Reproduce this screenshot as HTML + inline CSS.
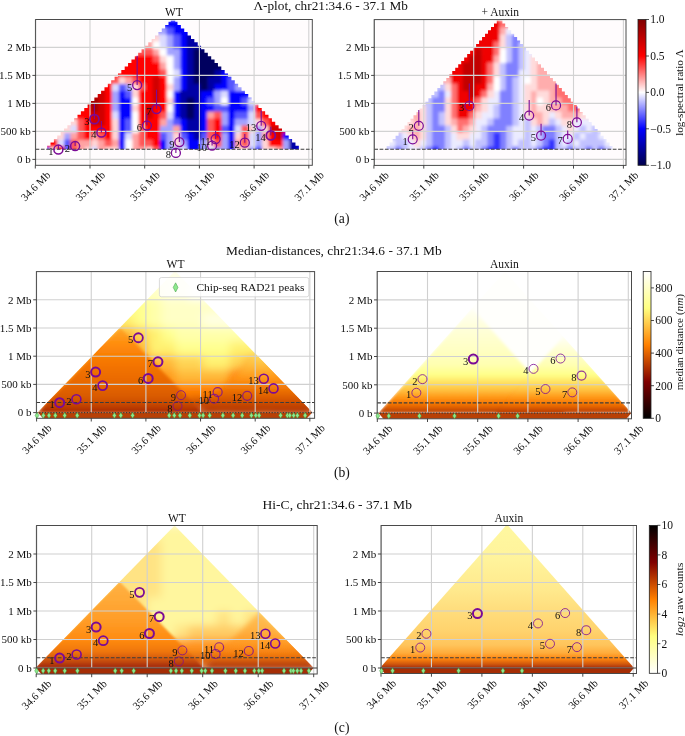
<!DOCTYPE html><html><head><meta charset="utf-8"><style>html,body{margin:0;padding:0;background:#fff;}svg{display:block;filter:blur(0.35px);}</style></head><body><svg width="685" height="736" viewBox="0 0 685 736" font-family='"Liberation Serif", serif' fill="#111">
<rect width="685" height="736" fill="#fff"/>
<text x="330.65" y="10.2" text-anchor="middle" font-size="12" textLength="154.5" lengthAdjust="spacingAndGlyphs">Λ-plot, chr21:34.6 - 37.1 Mb</text>
<rect x="37.10" y="21.00" width="273.70" height="142.80" fill="#fffcfd"/>
<clipPath id="claL"><rect x="35.60" y="19.50" width="276.70" height="145.80"/></clipPath>
<g clip-path="url(#claL)">
<clipPath id="taL"><polygon points="47.16,149.30 47.16,145.85 50.53,145.85 50.53,142.40 53.90,142.40 53.90,138.95 57.27,138.95 57.27,135.50 60.64,135.50 60.64,132.05 64.02,132.05 64.02,128.60 67.39,128.60 67.39,125.15 70.76,125.15 70.76,121.70 74.13,121.70 74.13,118.25 77.50,118.25 77.50,114.80 80.87,114.80 80.87,111.35 84.24,111.35 84.24,107.90 87.61,107.90 87.61,104.45 90.98,104.45 90.98,101.00 94.35,101.00 94.35,97.55 97.72,97.55 97.72,94.10 101.09,94.10 101.09,90.65 104.46,90.65 104.46,87.20 107.83,87.20 107.83,83.75 111.20,83.75 111.20,80.30 114.58,80.30 114.58,76.85 117.95,76.85 117.95,73.40 121.32,73.40 121.32,69.95 124.69,69.95 124.69,66.50 128.06,66.50 128.06,63.05 131.43,63.05 131.43,59.60 134.80,59.60 134.80,56.15 138.17,56.15 138.17,52.70 141.54,52.70 141.54,49.25 144.91,49.25 144.91,45.80 148.28,45.80 148.28,42.35 151.65,42.35 151.65,38.90 155.02,38.90 155.02,35.45 158.39,35.45 158.39,32.00 161.76,32.00 161.76,28.55 165.14,28.55 165.14,25.10 168.51,25.10 168.51,21.65 170.75,21.65 170.75,20.50 175.25,20.50 175.25,21.65 177.49,21.65 177.49,25.10 180.86,25.10 180.86,28.55 184.24,28.55 184.24,32.00 187.61,32.00 187.61,35.45 190.98,35.45 190.98,38.90 194.35,38.90 194.35,42.35 197.72,42.35 197.72,45.80 201.09,45.80 201.09,49.25 204.46,49.25 204.46,52.70 207.83,52.70 207.83,56.15 211.20,56.15 211.20,59.60 214.57,59.60 214.57,63.05 217.94,63.05 217.94,66.50 221.31,66.50 221.31,69.95 224.68,69.95 224.68,73.40 228.05,73.40 228.05,76.85 231.42,76.85 231.42,80.30 234.80,80.30 234.80,83.75 238.17,83.75 238.17,87.20 241.54,87.20 241.54,90.65 244.91,90.65 244.91,94.10 248.28,94.10 248.28,97.55 251.65,97.55 251.65,101.00 255.02,101.00 255.02,104.45 258.39,104.45 258.39,107.90 261.76,107.90 261.76,111.35 265.13,111.35 265.13,114.80 268.50,114.80 268.50,118.25 271.87,118.25 271.87,121.70 275.24,121.70 275.24,125.15 278.61,125.15 278.61,128.60 281.98,128.60 281.98,132.05 285.36,132.05 285.36,135.50 288.73,135.50 288.73,138.95 292.10,138.95 292.10,142.40 295.47,142.40 295.47,145.85 298.84,145.85 298.84,149.30"/></clipPath><filter id="faL" x="-5%" y="-5%" width="110%" height="110%"><feGaussianBlur stdDeviation="1.8"/></filter><g clip-path="url(#taL)"><g filter="url(#faL)"><path fill="#0000ff" d="M36.2 20.5h274.2v7.6h-274.2zM173.0 27.5h137.4v7.6h-137.4zM179.8 34.5h7.4v7.6h-7.4zM179.8 41.5h7.4v7.6h-7.4zM179.8 48.5h7.4v7.6h-7.4zM179.8 55.5h7.4v7.6h-7.4zM179.8 62.5h7.4v7.6h-7.4zM179.8 69.5h7.4v7.6h-7.4zM220.9 69.5h89.5v7.6h-89.5zM179.8 76.5h7.4v7.6h-7.4zM220.9 76.5h7.4v7.6h-7.4zM179.8 83.5h7.4v7.6h-7.4zM214.0 83.5h14.3v7.6h-14.3zM118.3 90.5h7.4v7.6h-7.4zM173.0 90.5h7.4v7.6h-7.4zM200.4 90.5h14.3v7.6h-14.3zM227.7 90.5h82.7v7.6h-82.7zM118.3 97.5h14.3v7.6h-14.3zM173.0 97.5h7.4v7.6h-7.4zM200.4 97.5h7.4v7.6h-7.4zM227.7 97.5h14.3v7.6h-14.3zM118.3 104.5h14.3v7.6h-14.3zM173.0 104.5h7.4v7.6h-7.4zM200.4 104.5h14.3v7.6h-14.3zM227.7 104.5h21.1v7.6h-21.1zM118.3 111.5h14.3v7.6h-14.3zM173.0 111.5h7.4v7.6h-7.4zM200.4 111.5h7.4v7.6h-7.4zM227.7 111.5h7.4v7.6h-7.4zM118.3 118.5h7.4v7.6h-7.4zM179.8 118.5h7.4v7.6h-7.4zM200.4 118.5h7.4v7.6h-7.4zM227.7 118.5h7.4v7.6h-7.4zM118.3 125.5h7.4v7.6h-7.4zM179.8 125.5h7.4v7.6h-7.4zM200.4 125.5h7.4v7.6h-7.4zM227.7 125.5h7.4v7.6h-7.4zM118.3 132.5h7.4v7.6h-7.4zM186.7 132.5h7.4v7.6h-7.4zM227.7 132.5h7.4v7.6h-7.4zM282.4 132.5h28.0v7.6h-28.0zM118.3 139.5h7.4v7.6h-7.4zM159.3 139.5h7.4v7.6h-7.4zM186.7 139.5h14.3v7.6h-14.3zM227.7 139.5h7.4v7.6h-7.4zM118.3 146.5h7.4v7.6h-7.4zM159.3 146.5h7.4v7.6h-7.4zM186.7 146.5h14.3v7.6h-14.3zM227.7 146.5h7.4v7.6h-7.4zM296.1 146.5h14.3v7.6h-14.3zM118.3 153.5h7.4v7.6h-7.4zM159.3 153.5h7.4v7.6h-7.4zM186.7 153.5h14.3v7.6h-14.3zM234.6 153.5h7.4v7.6h-7.4zM302.9 153.5h7.4v7.6h-7.4z"/><path fill="#a3a3ff" d="M36.2 27.5h130.5v7.6h-130.5zM166.2 34.5h7.4v7.6h-7.4zM166.2 41.5h7.4v7.6h-7.4zM166.2 48.5h14.3v7.6h-14.3zM173.0 55.5h7.4v7.6h-7.4zM173.0 62.5h7.4v7.6h-7.4zM173.0 76.5h7.4v7.6h-7.4zM125.1 83.5h7.4v7.6h-7.4zM173.0 83.5h7.4v7.6h-7.4zM234.6 83.5h75.8v7.6h-75.8zM111.4 90.5h7.4v7.6h-7.4zM214.0 90.5h7.4v7.6h-7.4zM111.4 97.5h7.4v7.6h-7.4zM214.0 97.5h7.4v7.6h-7.4zM111.4 104.5h7.4v7.6h-7.4zM248.2 104.5h7.4v7.6h-7.4zM220.9 111.5h7.4v7.6h-7.4zM166.2 118.5h7.4v7.6h-7.4zM220.9 118.5h7.4v7.6h-7.4zM234.6 118.5h14.3v7.6h-14.3zM159.3 125.5h14.3v7.6h-14.3zM255.1 125.5h7.4v7.6h-7.4zM63.6 132.5h7.4v7.6h-7.4zM166.2 132.5h7.4v7.6h-7.4zM220.9 132.5h7.4v7.6h-7.4zM255.1 132.5h7.4v7.6h-7.4zM166.2 139.5h7.4v7.6h-7.4zM179.8 139.5h7.4v7.6h-7.4zM200.4 139.5h7.4v7.6h-7.4zM220.9 139.5h7.4v7.6h-7.4zM255.1 139.5h7.4v7.6h-7.4zM282.4 139.5h7.4v7.6h-7.4zM166.2 146.5h14.3v7.6h-14.3zM200.4 146.5h7.4v7.6h-7.4zM214.0 146.5h14.3v7.6h-14.3zM248.2 146.5h7.4v7.6h-7.4zM282.4 146.5h7.4v7.6h-7.4zM36.2 153.5h14.3v7.6h-14.3zM166.2 153.5h14.3v7.6h-14.3zM200.4 153.5h7.4v7.6h-7.4zM220.9 153.5h14.3v7.6h-14.3zM255.1 153.5h7.4v7.6h-7.4zM289.3 153.5h7.4v7.6h-7.4z"/><path fill="#5757ff" d="M166.2 27.5h7.4v7.6h-7.4zM173.0 34.5h7.4v7.6h-7.4zM173.0 41.5h7.4v7.6h-7.4zM227.7 76.5h82.7v7.6h-82.7zM118.3 83.5h7.4v7.6h-7.4zM227.7 83.5h7.4v7.6h-7.4zM125.1 90.5h7.4v7.6h-7.4zM207.2 97.5h7.4v7.6h-7.4zM241.4 97.5h7.4v7.6h-7.4zM214.0 104.5h14.3v7.6h-14.3zM234.6 111.5h14.3v7.6h-14.3zM125.1 118.5h7.4v7.6h-7.4zM173.0 118.5h7.4v7.6h-7.4zM125.1 125.5h7.4v7.6h-7.4zM220.9 125.5h7.4v7.6h-7.4zM159.3 132.5h7.4v7.6h-7.4zM179.8 132.5h7.4v7.6h-7.4zM200.4 132.5h7.4v7.6h-7.4zM63.6 139.5h7.4v7.6h-7.4zM36.2 146.5h14.3v7.6h-14.3zM63.6 146.5h7.4v7.6h-7.4zM255.1 146.5h7.4v7.6h-7.4zM63.6 153.5h7.4v7.6h-7.4zM261.9 153.5h7.4v7.6h-7.4z"/><path fill="#ffd6d6" d="M36.2 34.5h123.7v7.6h-123.7zM159.3 55.5h7.4v7.6h-7.4zM118.3 76.5h7.4v7.6h-7.4zM132.0 83.5h7.4v7.6h-7.4zM166.2 83.5h7.4v7.6h-7.4zM132.0 90.5h7.4v7.6h-7.4zM166.2 97.5h7.4v7.6h-7.4zM132.0 104.5h7.4v7.6h-7.4zM36.2 118.5h41.6v7.6h-41.6zM111.4 118.5h7.4v7.6h-7.4zM255.1 118.5h7.4v7.6h-7.4zM36.2 125.5h34.8v7.6h-34.8zM111.4 125.5h7.4v7.6h-7.4zM248.2 125.5h7.4v7.6h-7.4zM261.9 125.5h7.4v7.6h-7.4zM36.2 132.5h28.0v7.6h-28.0zM111.4 132.5h7.4v7.6h-7.4zM173.0 132.5h7.4v7.6h-7.4zM234.6 132.5h7.4v7.6h-7.4zM90.9 139.5h7.4v7.6h-7.4zM173.0 139.5h7.4v7.6h-7.4zM207.2 139.5h7.4v7.6h-7.4zM261.9 139.5h7.4v7.6h-7.4zM49.9 146.5h7.4v7.6h-7.4zM84.1 146.5h7.4v7.6h-7.4zM104.6 146.5h14.3v7.6h-14.3zM145.6 146.5h7.4v7.6h-7.4zM234.6 146.5h14.3v7.6h-14.3zM261.9 146.5h14.3v7.6h-14.3zM84.1 153.5h7.4v7.6h-7.4zM104.6 153.5h14.3v7.6h-14.3zM145.6 153.5h7.4v7.6h-7.4zM241.4 153.5h14.3v7.6h-14.3zM268.7 153.5h14.3v7.6h-14.3z"/><path fill="#dbdbff" d="M159.3 34.5h7.4v7.6h-7.4zM159.3 41.5h7.4v7.6h-7.4zM173.0 69.5h7.4v7.6h-7.4zM111.4 83.5h7.4v7.6h-7.4zM220.9 90.5h7.4v7.6h-7.4zM248.2 97.5h62.2v7.6h-62.2zM111.4 111.5h7.4v7.6h-7.4zM166.2 111.5h7.4v7.6h-7.4zM248.2 111.5h7.4v7.6h-7.4zM248.2 118.5h7.4v7.6h-7.4zM70.4 125.5h7.4v7.6h-7.4zM234.6 125.5h7.4v7.6h-7.4zM125.1 132.5h7.4v7.6h-7.4zM248.2 132.5h7.4v7.6h-7.4zM56.7 139.5h7.4v7.6h-7.4zM248.2 139.5h7.4v7.6h-7.4zM90.9 146.5h7.4v7.6h-7.4zM179.8 146.5h7.4v7.6h-7.4zM207.2 146.5h7.4v7.6h-7.4zM77.3 153.5h7.4v7.6h-7.4zM90.9 153.5h7.4v7.6h-7.4zM179.8 153.5h7.4v7.6h-7.4zM207.2 153.5h14.3v7.6h-14.3z"/><path fill="#0000a6" d="M186.7 34.5h123.7v7.6h-123.7zM186.7 41.5h123.7v7.6h-123.7zM186.7 48.5h7.4v7.6h-7.4zM186.7 55.5h7.4v7.6h-7.4zM186.7 62.5h7.4v7.6h-7.4zM186.7 69.5h7.4v7.6h-7.4zM214.0 69.5h7.4v7.6h-7.4zM186.7 76.5h7.4v7.6h-7.4zM207.2 76.5h14.3v7.6h-14.3zM186.7 83.5h14.3v7.6h-14.3zM207.2 83.5h7.4v7.6h-7.4zM179.8 90.5h21.1v7.6h-21.1zM179.8 97.5h7.4v7.6h-7.4zM193.5 97.5h7.4v7.6h-7.4zM179.8 104.5h7.4v7.6h-7.4zM193.5 104.5h7.4v7.6h-7.4zM179.8 111.5h7.4v7.6h-7.4zM193.5 111.5h7.4v7.6h-7.4zM186.7 118.5h14.3v7.6h-14.3zM186.7 125.5h14.3v7.6h-14.3zM193.5 132.5h7.4v7.6h-7.4zM289.3 139.5h21.1v7.6h-21.1zM289.3 146.5h7.4v7.6h-7.4zM296.1 153.5h7.4v7.6h-7.4z"/><path fill="#ffa3a3" d="M36.2 41.5h116.9v7.6h-116.9zM152.5 48.5h7.4v7.6h-7.4zM159.3 62.5h7.4v7.6h-7.4zM125.1 76.5h7.4v7.6h-7.4zM207.2 111.5h7.4v7.6h-7.4zM159.3 118.5h7.4v7.6h-7.4zM173.0 125.5h7.4v7.6h-7.4zM70.4 132.5h7.4v7.6h-7.4zM90.9 132.5h7.4v7.6h-7.4zM132.0 132.5h7.4v7.6h-7.4zM261.9 132.5h7.4v7.6h-7.4zM77.3 139.5h14.3v7.6h-14.3zM97.8 139.5h7.4v7.6h-7.4zM111.4 139.5h7.4v7.6h-7.4zM132.0 139.5h7.4v7.6h-7.4zM234.6 139.5h7.4v7.6h-7.4zM77.3 146.5h7.4v7.6h-7.4zM97.8 146.5h7.4v7.6h-7.4zM132.0 146.5h14.3v7.6h-14.3zM275.6 146.5h7.4v7.6h-7.4zM97.8 153.5h7.4v7.6h-7.4zM132.0 153.5h14.3v7.6h-14.3zM282.4 153.5h7.4v7.6h-7.4z"/><path fill="#ffffff" d="M152.5 41.5h7.4v7.6h-7.4zM159.3 48.5h7.4v7.6h-7.4zM166.2 55.5h7.4v7.6h-7.4zM166.2 62.5h7.4v7.6h-7.4zM166.2 69.5h7.4v7.6h-7.4zM166.2 76.5h7.4v7.6h-7.4zM166.2 90.5h7.4v7.6h-7.4zM132.0 97.5h7.4v7.6h-7.4zM220.9 97.5h7.4v7.6h-7.4zM166.2 104.5h7.4v7.6h-7.4zM132.0 111.5h7.4v7.6h-7.4zM132.0 118.5h7.4v7.6h-7.4zM132.0 125.5h7.4v7.6h-7.4zM125.1 139.5h7.4v7.6h-7.4zM125.1 146.5h7.4v7.6h-7.4zM125.1 153.5h7.4v7.6h-7.4z"/><path fill="#ff5757" d="M36.2 48.5h116.9v7.6h-116.9zM152.5 55.5h7.4v7.6h-7.4zM159.3 69.5h7.4v7.6h-7.4zM36.2 76.5h82.7v7.6h-82.7zM132.0 76.5h7.4v7.6h-7.4zM138.8 83.5h7.4v7.6h-7.4zM159.3 111.5h7.4v7.6h-7.4zM214.0 111.5h7.4v7.6h-7.4zM255.1 111.5h7.4v7.6h-7.4zM77.3 118.5h7.4v7.6h-7.4zM207.2 118.5h7.4v7.6h-7.4zM261.9 118.5h7.4v7.6h-7.4zM77.3 125.5h7.4v7.6h-7.4zM138.8 125.5h7.4v7.6h-7.4zM207.2 125.5h7.4v7.6h-7.4zM241.4 125.5h7.4v7.6h-7.4zM77.3 132.5h7.4v7.6h-7.4zM97.8 132.5h7.4v7.6h-7.4zM138.8 132.5h7.4v7.6h-7.4zM207.2 132.5h7.4v7.6h-7.4zM241.4 132.5h7.4v7.6h-7.4zM70.4 139.5h7.4v7.6h-7.4zM104.6 139.5h7.4v7.6h-7.4zM138.8 139.5h14.3v7.6h-14.3zM214.0 139.5h7.4v7.6h-7.4zM241.4 139.5h7.4v7.6h-7.4zM70.4 146.5h7.4v7.6h-7.4zM152.5 146.5h7.4v7.6h-7.4zM56.7 153.5h7.4v7.6h-7.4zM70.4 153.5h7.4v7.6h-7.4zM152.5 153.5h7.4v7.6h-7.4z"/><path fill="#00005e" d="M193.5 48.5h116.9v7.6h-116.9zM193.5 55.5h116.9v7.6h-116.9zM193.5 62.5h116.9v7.6h-116.9zM193.5 69.5h21.1v7.6h-21.1zM193.5 76.5h14.3v7.6h-14.3zM200.4 83.5h7.4v7.6h-7.4zM186.7 97.5h7.4v7.6h-7.4zM186.7 104.5h7.4v7.6h-7.4zM186.7 111.5h7.4v7.6h-7.4z"/><path fill="#ff0000" d="M36.2 55.5h116.9v7.6h-116.9zM36.2 62.5h123.7v7.6h-123.7zM36.2 69.5h123.7v7.6h-123.7zM138.8 76.5h14.3v7.6h-14.3zM159.3 76.5h7.4v7.6h-7.4zM36.2 83.5h75.8v7.6h-75.8zM145.6 83.5h7.4v7.6h-7.4zM159.3 83.5h7.4v7.6h-7.4zM104.6 90.5h7.4v7.6h-7.4zM138.8 90.5h14.3v7.6h-14.3zM159.3 90.5h7.4v7.6h-7.4zM104.6 97.5h7.4v7.6h-7.4zM138.8 97.5h14.3v7.6h-14.3zM159.3 97.5h7.4v7.6h-7.4zM36.2 104.5h55.3v7.6h-55.3zM104.6 104.5h7.4v7.6h-7.4zM138.8 104.5h7.4v7.6h-7.4zM152.5 104.5h14.3v7.6h-14.3zM255.1 104.5h55.3v7.6h-55.3zM36.2 111.5h55.3v7.6h-55.3zM104.6 111.5h7.4v7.6h-7.4zM138.8 111.5h7.4v7.6h-7.4zM152.5 111.5h7.4v7.6h-7.4zM261.9 111.5h48.5v7.6h-48.5zM84.1 118.5h7.4v7.6h-7.4zM104.6 118.5h7.4v7.6h-7.4zM138.8 118.5h21.1v7.6h-21.1zM214.0 118.5h7.4v7.6h-7.4zM268.7 118.5h41.6v7.6h-41.6zM84.1 125.5h28.0v7.6h-28.0zM145.6 125.5h14.3v7.6h-14.3zM214.0 125.5h7.4v7.6h-7.4zM84.1 132.5h7.4v7.6h-7.4zM104.6 132.5h7.4v7.6h-7.4zM145.6 132.5h14.3v7.6h-14.3zM214.0 132.5h7.4v7.6h-7.4zM268.7 132.5h7.4v7.6h-7.4zM36.2 139.5h21.1v7.6h-21.1zM152.5 139.5h7.4v7.6h-7.4zM268.7 139.5h14.3v7.6h-14.3zM56.7 146.5h7.4v7.6h-7.4zM49.9 153.5h7.4v7.6h-7.4z"/><path fill="#d10000" d="M152.5 76.5h7.4v7.6h-7.4zM152.5 83.5h7.4v7.6h-7.4zM36.2 90.5h69.0v7.6h-69.0zM152.5 90.5h7.4v7.6h-7.4zM97.8 97.5h7.4v7.6h-7.4zM152.5 97.5h7.4v7.6h-7.4zM97.8 104.5h7.4v7.6h-7.4zM145.6 104.5h7.4v7.6h-7.4zM90.9 111.5h14.3v7.6h-14.3zM145.6 111.5h7.4v7.6h-7.4zM90.9 118.5h14.3v7.6h-14.3zM268.7 125.5h41.6v7.6h-41.6zM275.6 132.5h7.4v7.6h-7.4z"/><path fill="#a60000" d="M36.2 97.5h62.2v7.6h-62.2zM90.9 104.5h7.4v7.6h-7.4z"/></g></g>
</g>
<line x1="35.30" y1="19.50" x2="35.30" y2="165.30" stroke="#d2d2d2" stroke-width="1.1"/>
<line x1="90.00" y1="19.50" x2="90.00" y2="165.30" stroke="#d2d2d2" stroke-width="1.1"/>
<line x1="144.70" y1="19.50" x2="144.70" y2="165.30" stroke="#d2d2d2" stroke-width="1.1"/>
<line x1="199.40" y1="19.50" x2="199.40" y2="165.30" stroke="#d2d2d2" stroke-width="1.1"/>
<line x1="254.10" y1="19.50" x2="254.10" y2="165.30" stroke="#d2d2d2" stroke-width="1.1"/>
<line x1="308.80" y1="19.50" x2="308.80" y2="165.30" stroke="#d2d2d2" stroke-width="1.1"/>
<line x1="35.60" y1="159.40" x2="312.30" y2="159.40" stroke="#d2d2d2" stroke-width="1.1"/>
<line x1="35.60" y1="131.40" x2="312.30" y2="131.40" stroke="#d2d2d2" stroke-width="1.1"/>
<line x1="35.60" y1="103.40" x2="312.30" y2="103.40" stroke="#d2d2d2" stroke-width="1.1"/>
<line x1="35.60" y1="75.40" x2="312.30" y2="75.40" stroke="#d2d2d2" stroke-width="1.1"/>
<line x1="35.60" y1="47.40" x2="312.30" y2="47.40" stroke="#d2d2d2" stroke-width="1.1"/>
<line x1="35.60" y1="149.32" x2="312.30" y2="149.32" stroke="#3c3c3c" stroke-width="1.1" stroke-dasharray="3.7 1.6"/>
<rect x="35.60" y="19.50" width="276.70" height="145.80" fill="none" stroke="#4a4a4a" stroke-width="1"/>
<line x1="32.40" y1="159.40" x2="35.60" y2="159.40" stroke="#333" stroke-width="0.9"/>
<text x="30.80" y="163.15" text-anchor="end" font-size="11">0 b</text>
<line x1="32.40" y1="131.40" x2="35.60" y2="131.40" stroke="#333" stroke-width="0.9"/>
<text x="30.80" y="135.15" text-anchor="end" font-size="11">500 kb</text>
<line x1="32.40" y1="103.40" x2="35.60" y2="103.40" stroke="#333" stroke-width="0.9"/>
<text x="30.80" y="107.15" text-anchor="end" font-size="11">1 Mb</text>
<line x1="32.40" y1="75.40" x2="35.60" y2="75.40" stroke="#333" stroke-width="0.9"/>
<text x="30.80" y="79.15" text-anchor="end" font-size="11">1.5 Mb</text>
<line x1="32.40" y1="47.40" x2="35.60" y2="47.40" stroke="#333" stroke-width="0.9"/>
<text x="30.80" y="51.15" text-anchor="end" font-size="11">2 Mb</text>
<line x1="35.30" y1="165.30" x2="35.30" y2="168.50" stroke="#333" stroke-width="0.9"/>
<text x="35.30" y="185.90" text-anchor="middle" dominant-baseline="central" font-size="10.8" transform="rotate(-45 35.30 185.90)">34.6 Mb</text>
<line x1="90.00" y1="165.30" x2="90.00" y2="168.50" stroke="#333" stroke-width="0.9"/>
<text x="90.00" y="185.90" text-anchor="middle" dominant-baseline="central" font-size="10.8" transform="rotate(-45 90.00 185.90)">35.1 Mb</text>
<line x1="144.70" y1="165.30" x2="144.70" y2="168.50" stroke="#333" stroke-width="0.9"/>
<text x="144.70" y="185.90" text-anchor="middle" dominant-baseline="central" font-size="10.8" transform="rotate(-45 144.70 185.90)">35.6 Mb</text>
<line x1="199.40" y1="165.30" x2="199.40" y2="168.50" stroke="#333" stroke-width="0.9"/>
<text x="199.40" y="185.90" text-anchor="middle" dominant-baseline="central" font-size="10.8" transform="rotate(-45 199.40 185.90)">36.1 Mb</text>
<line x1="254.10" y1="165.30" x2="254.10" y2="168.50" stroke="#333" stroke-width="0.9"/>
<text x="254.10" y="185.90" text-anchor="middle" dominant-baseline="central" font-size="10.8" transform="rotate(-45 254.10 185.90)">36.6 Mb</text>
<line x1="308.80" y1="165.30" x2="308.80" y2="168.50" stroke="#333" stroke-width="0.9"/>
<text x="308.80" y="185.90" text-anchor="middle" dominant-baseline="central" font-size="10.8" transform="rotate(-45 308.80 185.90)">37.1 Mb</text>
<text x="173.95" y="15.50" text-anchor="middle" font-size="11.5">WT</text>
<line x1="58.38" y1="145.00" x2="58.38" y2="149.60" stroke="#7b0a96" stroke-width="1.1"/>
<circle cx="58.38" cy="149.60" r="4.5" fill="none" stroke="#7b0a96" stroke-width="1.5"/>
<text x="53.38" y="155.10" text-anchor="end" font-size="10.5">1</text>
<line x1="75.12" y1="141.40" x2="75.12" y2="146.10" stroke="#7b0a96" stroke-width="1.1"/>
<circle cx="75.12" cy="146.10" r="4.5" fill="none" stroke="#7b0a96" stroke-width="1.5"/>
<text x="70.12" y="151.60" text-anchor="end" font-size="10.5">2</text>
<line x1="94.38" y1="104.00" x2="94.38" y2="119.19" stroke="#7b0a96" stroke-width="1.1"/>
<circle cx="94.38" cy="119.19" r="4.5" fill="none" stroke="#7b0a96" stroke-width="1.8"/>
<text x="89.38" y="124.69" text-anchor="end" font-size="10.5">3</text>
<line x1="101.38" y1="121.00" x2="101.38" y2="132.58" stroke="#7b0a96" stroke-width="1.1"/>
<circle cx="101.38" cy="132.58" r="4.5" fill="none" stroke="#7b0a96" stroke-width="1.5"/>
<text x="96.38" y="138.08" text-anchor="end" font-size="10.5">4</text>
<line x1="137.15" y1="55.80" x2="137.15" y2="85.09" stroke="#7b0a96" stroke-width="1.1"/>
<circle cx="137.15" cy="85.09" r="4.5" fill="none" stroke="#7b0a96" stroke-width="1.3"/>
<text x="132.15" y="90.59" text-anchor="end" font-size="10.5">5</text>
<line x1="146.89" y1="113.60" x2="146.89" y2="125.52" stroke="#7b0a96" stroke-width="1.1"/>
<circle cx="146.89" cy="125.52" r="4.5" fill="none" stroke="#7b0a96" stroke-width="1.3"/>
<text x="141.89" y="131.02" text-anchor="end" font-size="10.5">6</text>
<line x1="156.52" y1="89.70" x2="156.52" y2="109.00" stroke="#7b0a96" stroke-width="1.1"/>
<circle cx="156.52" cy="109.00" r="4.5" fill="none" stroke="#7b0a96" stroke-width="1.5"/>
<text x="151.52" y="114.50" text-anchor="end" font-size="10.5">7</text>
<line x1="175.88" y1="149.00" x2="175.88" y2="152.90" stroke="#7b0a96" stroke-width="1.1"/>
<circle cx="175.88" cy="152.90" r="4.5" fill="none" stroke="#7b0a96" stroke-width="1.3"/>
<text x="170.88" y="158.40" text-anchor="end" font-size="10.5">8</text>
<line x1="179.38" y1="133.30" x2="179.38" y2="142.10" stroke="#7b0a96" stroke-width="1.1"/>
<circle cx="179.38" cy="142.10" r="4.5" fill="none" stroke="#7b0a96" stroke-width="1.3"/>
<text x="174.38" y="147.60" text-anchor="end" font-size="10.5">9</text>
<line x1="212.09" y1="140.00" x2="212.09" y2="145.62" stroke="#7b0a96" stroke-width="1.1"/>
<circle cx="212.09" cy="145.62" r="4.5" fill="none" stroke="#7b0a96" stroke-width="1.3"/>
<text x="207.09" y="151.12" text-anchor="end" font-size="10.5">10</text>
<line x1="215.59" y1="130.90" x2="215.59" y2="139.02" stroke="#7b0a96" stroke-width="1.1"/>
<circle cx="215.59" cy="139.02" r="4.5" fill="none" stroke="#7b0a96" stroke-width="1.3"/>
<text x="210.59" y="144.52" text-anchor="end" font-size="10.5">11</text>
<line x1="244.80" y1="134.00" x2="244.80" y2="142.71" stroke="#7b0a96" stroke-width="1.1"/>
<circle cx="244.80" cy="142.71" r="4.5" fill="none" stroke="#7b0a96" stroke-width="1.3"/>
<text x="239.80" y="148.21" text-anchor="end" font-size="10.5">12</text>
<line x1="261.21" y1="110.40" x2="261.21" y2="125.80" stroke="#7b0a96" stroke-width="1.1"/>
<circle cx="261.21" cy="125.80" r="4.5" fill="none" stroke="#7b0a96" stroke-width="1.3"/>
<text x="256.21" y="131.30" text-anchor="end" font-size="10.5">13</text>
<line x1="270.84" y1="126.80" x2="270.84" y2="135.38" stroke="#7b0a96" stroke-width="1.1"/>
<circle cx="270.84" cy="135.38" r="4.5" fill="none" stroke="#7b0a96" stroke-width="1.8"/>
<text x="265.84" y="140.88" text-anchor="end" font-size="10.5">14</text>
<rect x="375.80" y="21.10" width="248.70" height="142.80" fill="#fffcfd"/>
<clipPath id="claR"><rect x="374.30" y="19.60" width="251.70" height="145.80"/></clipPath>
<g clip-path="url(#claR)">
<clipPath id="taR"><polygon points="386.64,149.30 386.64,145.90 389.62,145.90 389.62,142.50 392.61,142.50 392.61,139.10 395.59,139.10 395.59,135.70 398.57,135.70 398.57,132.30 401.55,132.30 401.55,128.90 404.53,128.90 404.53,125.50 407.51,125.50 407.51,122.10 410.50,122.10 410.50,118.70 413.48,118.70 413.48,115.30 416.46,115.30 416.46,111.90 419.44,111.90 419.44,108.50 422.42,108.50 422.42,105.10 425.41,105.10 425.41,101.70 428.39,101.70 428.39,98.30 431.37,98.30 431.37,94.90 434.35,94.90 434.35,91.50 437.33,91.50 437.33,88.10 440.31,88.10 440.31,84.70 443.30,84.70 443.30,81.30 446.28,81.30 446.28,77.90 449.26,77.90 449.26,74.50 452.24,74.50 452.24,71.10 455.22,71.10 455.22,67.70 458.21,67.70 458.21,64.30 461.19,64.30 461.19,60.90 464.17,60.90 464.17,57.50 467.15,57.50 467.15,54.10 470.13,54.10 470.13,50.70 473.11,50.70 473.11,47.30 476.10,47.30 476.10,43.90 479.08,43.90 479.08,40.50 482.06,40.50 482.06,37.10 485.04,37.10 485.04,33.70 488.02,33.70 488.02,30.30 491.01,30.30 491.01,26.90 493.99,26.90 493.99,23.50 496.79,23.50 496.79,20.50 502.41,20.50 502.41,23.50 505.21,23.50 505.21,26.90 508.19,26.90 508.19,30.30 511.18,30.30 511.18,33.70 514.16,33.70 514.16,37.10 517.14,37.10 517.14,40.50 520.12,40.50 520.12,43.90 523.10,43.90 523.10,47.30 526.09,47.30 526.09,50.70 529.07,50.70 529.07,54.10 532.05,54.10 532.05,57.50 535.03,57.50 535.03,60.90 538.01,60.90 538.01,64.30 540.99,64.30 540.99,67.70 543.98,67.70 543.98,71.10 546.96,71.10 546.96,74.50 549.94,74.50 549.94,77.90 552.92,77.90 552.92,81.30 555.90,81.30 555.90,84.70 558.89,84.70 558.89,88.10 561.87,88.10 561.87,91.50 564.85,91.50 564.85,94.90 567.83,94.90 567.83,98.30 570.81,98.30 570.81,101.70 573.79,101.70 573.79,105.10 576.78,105.10 576.78,108.50 579.76,108.50 579.76,111.90 582.74,111.90 582.74,115.30 585.72,115.30 585.72,118.70 588.70,118.70 588.70,122.10 591.69,122.10 591.69,125.50 594.67,125.50 594.67,128.90 597.65,128.90 597.65,132.30 600.63,132.30 600.63,135.70 603.61,135.70 603.61,139.10 606.59,139.10 606.59,142.50 609.58,142.50 609.58,145.90 612.56,145.90 612.56,149.30"/></clipPath><filter id="faR" x="-5%" y="-5%" width="110%" height="110%"><feGaussianBlur stdDeviation="1.8"/></filter><g clip-path="url(#taR)"><g filter="url(#faR)"><path fill="#f00000" d="M376.8 20.5h123.4v7.6h-123.4zM376.8 27.5h123.4v7.6h-123.4zM376.8 34.5h123.4v7.6h-123.4zM376.8 41.5h117.2v7.6h-117.2zM376.8 48.5h98.8v7.6h-98.8zM481.2 48.5h12.9v7.6h-12.9zM376.8 55.5h92.7v7.6h-92.7zM481.2 55.5h12.9v7.6h-12.9zM376.8 62.5h86.5v7.6h-86.5zM481.2 62.5h6.7v7.6h-6.7zM376.8 69.5h86.5v7.6h-86.5zM481.2 69.5h6.7v7.6h-6.7zM450.5 76.5h12.9v7.6h-12.9zM481.2 76.5h6.7v7.6h-6.7zM456.6 83.5h6.7v7.6h-6.7zM475.0 83.5h12.9v7.6h-12.9zM456.6 90.5h12.9v7.6h-12.9zM475.0 90.5h6.7v7.6h-6.7zM456.6 97.5h19.0v7.6h-19.0zM456.6 104.5h19.0v7.6h-19.0zM456.6 111.5h12.9v7.6h-12.9z"/><path fill="#ff7070" d="M499.6 20.5h123.4v7.6h-123.4zM493.5 41.5h6.7v7.6h-6.7zM493.5 48.5h6.7v7.6h-6.7zM487.3 62.5h6.7v7.6h-6.7zM487.3 69.5h6.7v7.6h-6.7zM487.3 76.5h6.7v7.6h-6.7zM450.5 83.5h6.7v7.6h-6.7zM554.9 83.5h68.1v7.6h-68.1zM450.5 90.5h6.7v7.6h-6.7zM481.2 90.5h6.7v7.6h-6.7zM554.9 90.5h68.1v7.6h-68.1zM450.5 97.5h6.7v7.6h-6.7zM475.0 97.5h6.7v7.6h-6.7zM561.0 97.5h62.0v7.6h-62.0zM450.5 104.5h6.7v7.6h-6.7zM567.1 104.5h55.9v7.6h-55.9zM450.5 111.5h6.7v7.6h-6.7zM468.9 111.5h6.7v7.6h-6.7zM456.6 118.5h12.9v7.6h-12.9zM456.6 125.5h6.7v7.6h-6.7z"/><path fill="#ffadad" d="M499.6 27.5h6.7v7.6h-6.7zM493.5 55.5h6.7v7.6h-6.7zM536.4 62.5h86.5v7.6h-86.5zM536.4 69.5h86.5v7.6h-86.5zM376.8 76.5h74.3v7.6h-74.3zM536.4 76.5h86.5v7.6h-86.5zM487.3 83.5h6.7v7.6h-6.7zM536.4 83.5h19.0v7.6h-19.0zM530.3 90.5h6.7v7.6h-6.7zM548.7 90.5h6.7v7.6h-6.7zM530.3 97.5h6.7v7.6h-6.7zM548.7 97.5h12.9v7.6h-12.9zM475.0 104.5h6.7v7.6h-6.7zM530.3 104.5h6.7v7.6h-6.7zM548.7 104.5h19.0v7.6h-19.0zM376.8 111.5h43.6v7.6h-43.6zM530.3 111.5h12.9v7.6h-12.9zM561.0 111.5h19.0v7.6h-19.0zM413.7 118.5h6.7v7.6h-6.7zM450.5 118.5h6.7v7.6h-6.7zM468.9 118.5h6.7v7.6h-6.7zM536.4 118.5h6.7v7.6h-6.7zM407.5 125.5h12.9v7.6h-12.9zM462.8 125.5h6.7v7.6h-6.7zM413.7 132.5h6.7v7.6h-6.7z"/><path fill="#ebebff" d="M505.7 27.5h117.2v7.6h-117.2zM524.2 48.5h98.8v7.6h-98.8zM524.2 55.5h6.7v7.6h-6.7zM524.2 62.5h6.7v7.6h-6.7zM518.0 69.5h12.9v7.6h-12.9zM518.0 76.5h6.7v7.6h-6.7zM518.0 83.5h6.7v7.6h-6.7zM444.3 90.5h6.7v7.6h-6.7zM493.5 90.5h6.7v7.6h-6.7zM518.0 90.5h6.7v7.6h-6.7zM487.3 97.5h12.9v7.6h-12.9zM518.0 97.5h6.7v7.6h-6.7zM487.3 104.5h6.7v7.6h-6.7zM518.0 104.5h6.7v7.6h-6.7zM481.2 111.5h12.9v7.6h-12.9zM518.0 111.5h6.7v7.6h-6.7zM548.7 111.5h6.7v7.6h-6.7zM475.0 118.5h12.9v7.6h-12.9zM518.0 118.5h6.7v7.6h-6.7zM554.9 118.5h6.7v7.6h-6.7zM573.3 118.5h49.7v7.6h-49.7zM475.0 125.5h6.7v7.6h-6.7zM511.9 125.5h12.9v7.6h-12.9zM530.3 125.5h6.7v7.6h-6.7zM561.0 125.5h6.7v7.6h-6.7zM573.3 125.5h6.7v7.6h-6.7zM585.5 125.5h6.7v7.6h-6.7zM401.4 132.5h6.7v7.6h-6.7zM450.5 132.5h6.7v7.6h-6.7zM468.9 132.5h12.9v7.6h-12.9zM511.9 132.5h12.9v7.6h-12.9zM530.3 132.5h6.7v7.6h-6.7zM561.0 132.5h12.9v7.6h-12.9zM579.4 132.5h6.7v7.6h-6.7zM597.8 132.5h25.2v7.6h-25.2zM376.8 139.5h19.0v7.6h-19.0zM407.5 139.5h6.7v7.6h-6.7zM419.8 139.5h6.7v7.6h-6.7zM450.5 139.5h12.9v7.6h-12.9zM468.9 139.5h6.7v7.6h-6.7zM511.9 139.5h6.7v7.6h-6.7zM530.3 139.5h6.7v7.6h-6.7zM561.0 139.5h6.7v7.6h-6.7zM573.3 139.5h6.7v7.6h-6.7zM604.0 139.5h19.0v7.6h-19.0zM407.5 146.5h12.9v7.6h-12.9zM450.5 146.5h6.7v7.6h-6.7zM610.1 146.5h12.9v7.6h-12.9zM407.5 153.5h12.9v7.6h-12.9zM450.5 153.5h6.7v7.6h-6.7zM610.1 153.5h12.9v7.6h-12.9z"/><path fill="#ffdbdb" d="M499.6 34.5h6.7v7.6h-6.7zM499.6 41.5h6.7v7.6h-6.7zM530.3 55.5h92.7v7.6h-92.7zM493.5 62.5h6.7v7.6h-6.7zM530.3 62.5h6.7v7.6h-6.7zM493.5 69.5h6.7v7.6h-6.7zM530.3 69.5h6.7v7.6h-6.7zM530.3 76.5h6.7v7.6h-6.7zM444.3 83.5h6.7v7.6h-6.7zM524.2 83.5h12.9v7.6h-12.9zM487.3 90.5h6.7v7.6h-6.7zM524.2 90.5h6.7v7.6h-6.7zM536.4 90.5h12.9v7.6h-12.9zM444.3 97.5h6.7v7.6h-6.7zM481.2 97.5h6.7v7.6h-6.7zM524.2 97.5h6.7v7.6h-6.7zM542.6 97.5h6.7v7.6h-6.7zM376.8 104.5h49.7v7.6h-49.7zM444.3 104.5h6.7v7.6h-6.7zM481.2 104.5h6.7v7.6h-6.7zM524.2 104.5h6.7v7.6h-6.7zM536.4 104.5h12.9v7.6h-12.9zM419.8 111.5h6.7v7.6h-6.7zM444.3 111.5h6.7v7.6h-6.7zM475.0 111.5h6.7v7.6h-6.7zM524.2 111.5h6.7v7.6h-6.7zM542.6 111.5h6.7v7.6h-6.7zM554.9 111.5h6.7v7.6h-6.7zM579.4 111.5h43.6v7.6h-43.6zM376.8 118.5h37.4v7.6h-37.4zM419.8 118.5h6.7v7.6h-6.7zM444.3 118.5h6.7v7.6h-6.7zM530.3 118.5h6.7v7.6h-6.7zM542.6 118.5h6.7v7.6h-6.7zM561.0 118.5h12.9v7.6h-12.9zM376.8 125.5h31.3v7.6h-31.3zM419.8 125.5h6.7v7.6h-6.7zM450.5 125.5h6.7v7.6h-6.7zM468.9 125.5h6.7v7.6h-6.7zM567.1 125.5h6.7v7.6h-6.7zM407.5 132.5h6.7v7.6h-6.7zM419.8 132.5h6.7v7.6h-6.7zM456.6 132.5h12.9v7.6h-12.9zM413.7 139.5h6.7v7.6h-6.7z"/><path fill="#c2c2ff" d="M505.7 34.5h6.7v7.6h-6.7zM505.7 41.5h6.7v7.6h-6.7zM518.0 41.5h105.0v7.6h-105.0zM505.7 48.5h6.7v7.6h-6.7zM518.0 48.5h6.7v7.6h-6.7zM505.7 55.5h6.7v7.6h-6.7zM518.0 55.5h6.7v7.6h-6.7zM499.6 62.5h6.7v7.6h-6.7zM518.0 62.5h6.7v7.6h-6.7zM499.6 69.5h6.7v7.6h-6.7zM499.6 76.5h6.7v7.6h-6.7zM511.9 76.5h6.7v7.6h-6.7zM376.8 83.5h68.1v7.6h-68.1zM499.6 83.5h6.7v7.6h-6.7zM511.9 83.5h6.7v7.6h-6.7zM376.8 90.5h62.0v7.6h-62.0zM511.9 90.5h6.7v7.6h-6.7zM376.8 97.5h55.9v7.6h-55.9zM511.9 97.5h6.7v7.6h-6.7zM425.9 104.5h6.7v7.6h-6.7zM493.5 104.5h6.7v7.6h-6.7zM511.9 104.5h6.7v7.6h-6.7zM425.9 111.5h6.7v7.6h-6.7zM438.2 111.5h6.7v7.6h-6.7zM493.5 111.5h6.7v7.6h-6.7zM511.9 111.5h6.7v7.6h-6.7zM425.9 118.5h6.7v7.6h-6.7zM438.2 118.5h6.7v7.6h-6.7zM487.3 118.5h6.7v7.6h-6.7zM511.9 118.5h6.7v7.6h-6.7zM524.2 118.5h6.7v7.6h-6.7zM548.7 118.5h6.7v7.6h-6.7zM425.9 125.5h6.7v7.6h-6.7zM444.3 125.5h6.7v7.6h-6.7zM481.2 125.5h6.7v7.6h-6.7zM505.7 125.5h6.7v7.6h-6.7zM524.2 125.5h6.7v7.6h-6.7zM536.4 125.5h6.7v7.6h-6.7zM554.9 125.5h6.7v7.6h-6.7zM579.4 125.5h6.7v7.6h-6.7zM591.7 125.5h31.3v7.6h-31.3zM376.8 132.5h25.2v7.6h-25.2zM425.9 132.5h6.7v7.6h-6.7zM444.3 132.5h6.7v7.6h-6.7zM481.2 132.5h6.7v7.6h-6.7zM505.7 132.5h6.7v7.6h-6.7zM524.2 132.5h6.7v7.6h-6.7zM536.4 132.5h6.7v7.6h-6.7zM554.9 132.5h6.7v7.6h-6.7zM573.3 132.5h6.7v7.6h-6.7zM585.5 132.5h12.9v7.6h-12.9zM395.2 139.5h12.9v7.6h-12.9zM425.9 139.5h6.7v7.6h-6.7zM444.3 139.5h6.7v7.6h-6.7zM462.8 139.5h6.7v7.6h-6.7zM475.0 139.5h12.9v7.6h-12.9zM505.7 139.5h6.7v7.6h-6.7zM518.0 139.5h12.9v7.6h-12.9zM536.4 139.5h6.7v7.6h-6.7zM554.9 139.5h6.7v7.6h-6.7zM567.1 139.5h6.7v7.6h-6.7zM579.4 139.5h25.2v7.6h-25.2zM376.8 146.5h19.0v7.6h-19.0zM401.4 146.5h6.7v7.6h-6.7zM419.8 146.5h6.7v7.6h-6.7zM444.3 146.5h6.7v7.6h-6.7zM456.6 146.5h6.7v7.6h-6.7zM468.9 146.5h12.9v7.6h-12.9zM505.7 146.5h6.7v7.6h-6.7zM518.0 146.5h19.0v7.6h-19.0zM554.9 146.5h12.9v7.6h-12.9zM573.3 146.5h12.9v7.6h-12.9zM591.7 146.5h6.7v7.6h-6.7zM604.0 146.5h6.7v7.6h-6.7zM376.8 153.5h19.0v7.6h-19.0zM401.4 153.5h6.7v7.6h-6.7zM419.8 153.5h6.7v7.6h-6.7zM444.3 153.5h6.7v7.6h-6.7zM456.6 153.5h6.7v7.6h-6.7zM468.9 153.5h12.9v7.6h-12.9zM505.7 153.5h6.7v7.6h-6.7zM518.0 153.5h19.0v7.6h-19.0zM554.9 153.5h12.9v7.6h-12.9zM573.3 153.5h12.9v7.6h-12.9zM591.7 153.5h6.7v7.6h-6.7zM604.0 153.5h6.7v7.6h-6.7z"/><path fill="#8080ff" d="M511.9 34.5h111.1v7.6h-111.1zM511.9 41.5h6.7v7.6h-6.7zM511.9 48.5h6.7v7.6h-6.7zM511.9 55.5h6.7v7.6h-6.7zM505.7 62.5h12.9v7.6h-12.9zM505.7 69.5h12.9v7.6h-12.9zM505.7 76.5h6.7v7.6h-6.7zM505.7 83.5h6.7v7.6h-6.7zM438.2 90.5h6.7v7.6h-6.7zM499.6 90.5h12.9v7.6h-12.9zM432.1 97.5h12.9v7.6h-12.9zM499.6 97.5h12.9v7.6h-12.9zM432.1 104.5h12.9v7.6h-12.9zM499.6 104.5h12.9v7.6h-12.9zM432.1 111.5h6.7v7.6h-6.7zM499.6 111.5h12.9v7.6h-12.9zM432.1 118.5h6.7v7.6h-6.7zM493.5 118.5h19.0v7.6h-19.0zM432.1 125.5h12.9v7.6h-12.9zM487.3 125.5h19.0v7.6h-19.0zM542.6 125.5h12.9v7.6h-12.9zM432.1 132.5h12.9v7.6h-12.9zM487.3 132.5h6.7v7.6h-6.7zM499.6 132.5h6.7v7.6h-6.7zM542.6 132.5h12.9v7.6h-12.9zM432.1 139.5h12.9v7.6h-12.9zM487.3 139.5h6.7v7.6h-6.7zM499.6 139.5h6.7v7.6h-6.7zM542.6 139.5h6.7v7.6h-6.7zM395.2 146.5h6.7v7.6h-6.7zM425.9 146.5h6.7v7.6h-6.7zM438.2 146.5h6.7v7.6h-6.7zM462.8 146.5h6.7v7.6h-6.7zM481.2 146.5h6.7v7.6h-6.7zM499.6 146.5h6.7v7.6h-6.7zM511.9 146.5h6.7v7.6h-6.7zM536.4 146.5h6.7v7.6h-6.7zM567.1 146.5h6.7v7.6h-6.7zM585.5 146.5h6.7v7.6h-6.7zM597.8 146.5h6.7v7.6h-6.7zM395.2 153.5h6.7v7.6h-6.7zM425.9 153.5h6.7v7.6h-6.7zM438.2 153.5h6.7v7.6h-6.7zM462.8 153.5h6.7v7.6h-6.7zM481.2 153.5h6.7v7.6h-6.7zM499.6 153.5h6.7v7.6h-6.7zM511.9 153.5h6.7v7.6h-6.7zM536.4 153.5h6.7v7.6h-6.7zM567.1 153.5h6.7v7.6h-6.7zM585.5 153.5h6.7v7.6h-6.7zM597.8 153.5h6.7v7.6h-6.7z"/><path fill="#c20000" d="M475.0 48.5h6.7v7.6h-6.7zM468.9 55.5h12.9v7.6h-12.9zM462.8 62.5h19.0v7.6h-19.0zM462.8 69.5h19.0v7.6h-19.0zM462.8 76.5h19.0v7.6h-19.0zM462.8 83.5h12.9v7.6h-12.9zM468.9 90.5h6.7v7.6h-6.7z"/><path fill="#ffffff" d="M499.6 48.5h6.7v7.6h-6.7zM499.6 55.5h6.7v7.6h-6.7zM493.5 76.5h6.7v7.6h-6.7zM524.2 76.5h6.7v7.6h-6.7zM493.5 83.5h6.7v7.6h-6.7zM536.4 97.5h6.7v7.6h-6.7z"/><path fill="#3333ff" d="M493.5 132.5h6.7v7.6h-6.7zM493.5 139.5h6.7v7.6h-6.7zM548.7 139.5h6.7v7.6h-6.7zM432.1 146.5h6.7v7.6h-6.7zM487.3 146.5h12.9v7.6h-12.9zM542.6 146.5h12.9v7.6h-12.9zM432.1 153.5h6.7v7.6h-6.7zM487.3 153.5h12.9v7.6h-12.9zM542.6 153.5h12.9v7.6h-12.9z"/></g></g>
</g>
<line x1="373.90" y1="19.60" x2="373.90" y2="165.40" stroke="#d2d2d2" stroke-width="1.1"/>
<line x1="423.80" y1="19.60" x2="423.80" y2="165.40" stroke="#d2d2d2" stroke-width="1.1"/>
<line x1="473.70" y1="19.60" x2="473.70" y2="165.40" stroke="#d2d2d2" stroke-width="1.1"/>
<line x1="523.60" y1="19.60" x2="523.60" y2="165.40" stroke="#d2d2d2" stroke-width="1.1"/>
<line x1="573.50" y1="19.60" x2="573.50" y2="165.40" stroke="#d2d2d2" stroke-width="1.1"/>
<line x1="623.40" y1="19.60" x2="623.40" y2="165.40" stroke="#d2d2d2" stroke-width="1.1"/>
<line x1="374.30" y1="159.40" x2="626.00" y2="159.40" stroke="#d2d2d2" stroke-width="1.1"/>
<line x1="374.30" y1="131.40" x2="626.00" y2="131.40" stroke="#d2d2d2" stroke-width="1.1"/>
<line x1="374.30" y1="103.40" x2="626.00" y2="103.40" stroke="#d2d2d2" stroke-width="1.1"/>
<line x1="374.30" y1="75.40" x2="626.00" y2="75.40" stroke="#d2d2d2" stroke-width="1.1"/>
<line x1="374.30" y1="47.40" x2="626.00" y2="47.40" stroke="#d2d2d2" stroke-width="1.1"/>
<line x1="374.30" y1="149.32" x2="626.00" y2="149.32" stroke="#3c3c3c" stroke-width="1.1" stroke-dasharray="3.7 1.6"/>
<rect x="374.30" y="19.60" width="251.70" height="145.80" fill="none" stroke="#4a4a4a" stroke-width="1"/>
<line x1="371.10" y1="159.40" x2="374.30" y2="159.40" stroke="#333" stroke-width="0.9"/>
<text x="369.50" y="163.15" text-anchor="end" font-size="11">0 b</text>
<line x1="371.10" y1="131.40" x2="374.30" y2="131.40" stroke="#333" stroke-width="0.9"/>
<text x="369.50" y="135.15" text-anchor="end" font-size="11">500 kb</text>
<line x1="371.10" y1="103.40" x2="374.30" y2="103.40" stroke="#333" stroke-width="0.9"/>
<text x="369.50" y="107.15" text-anchor="end" font-size="11">1 Mb</text>
<line x1="371.10" y1="75.40" x2="374.30" y2="75.40" stroke="#333" stroke-width="0.9"/>
<text x="369.50" y="79.15" text-anchor="end" font-size="11">1.5 Mb</text>
<line x1="371.10" y1="47.40" x2="374.30" y2="47.40" stroke="#333" stroke-width="0.9"/>
<text x="369.50" y="51.15" text-anchor="end" font-size="11">2 Mb</text>
<line x1="373.90" y1="165.40" x2="373.90" y2="168.60" stroke="#333" stroke-width="0.9"/>
<text x="373.90" y="186.00" text-anchor="middle" dominant-baseline="central" font-size="10.8" transform="rotate(-45 373.90 186.00)">34.6 Mb</text>
<line x1="423.80" y1="165.40" x2="423.80" y2="168.60" stroke="#333" stroke-width="0.9"/>
<text x="423.80" y="186.00" text-anchor="middle" dominant-baseline="central" font-size="10.8" transform="rotate(-45 423.80 186.00)">35.1 Mb</text>
<line x1="473.70" y1="165.40" x2="473.70" y2="168.60" stroke="#333" stroke-width="0.9"/>
<text x="473.70" y="186.00" text-anchor="middle" dominant-baseline="central" font-size="10.8" transform="rotate(-45 473.70 186.00)">35.6 Mb</text>
<line x1="523.60" y1="165.40" x2="523.60" y2="168.60" stroke="#333" stroke-width="0.9"/>
<text x="523.60" y="186.00" text-anchor="middle" dominant-baseline="central" font-size="10.8" transform="rotate(-45 523.60 186.00)">36.1 Mb</text>
<line x1="573.50" y1="165.40" x2="573.50" y2="168.60" stroke="#333" stroke-width="0.9"/>
<text x="573.50" y="186.00" text-anchor="middle" dominant-baseline="central" font-size="10.8" transform="rotate(-45 573.50 186.00)">36.6 Mb</text>
<line x1="623.40" y1="165.40" x2="623.40" y2="168.60" stroke="#333" stroke-width="0.9"/>
<text x="623.40" y="186.00" text-anchor="middle" dominant-baseline="central" font-size="10.8" transform="rotate(-45 623.40 186.00)">37.1 Mb</text>
<text x="500.15" y="15.60" text-anchor="middle" font-size="11.5">+ Auxin</text>
<line x1="412.72" y1="131.50" x2="412.72" y2="139.30" stroke="#7b0a96" stroke-width="1.1"/>
<circle cx="412.72" cy="139.30" r="4.5" fill="none" stroke="#7b0a96" stroke-width="1.2"/>
<text x="407.72" y="144.80" text-anchor="end" font-size="10.5">1</text>
<line x1="418.81" y1="110.00" x2="418.81" y2="125.80" stroke="#7b0a96" stroke-width="1.1"/>
<circle cx="418.81" cy="125.80" r="4.5" fill="none" stroke="#7b0a96" stroke-width="1.2"/>
<text x="413.81" y="131.30" text-anchor="end" font-size="10.5">2</text>
<line x1="469.31" y1="83.50" x2="469.31" y2="105.98" stroke="#7b0a96" stroke-width="1.1"/>
<circle cx="469.31" cy="105.98" r="4.5" fill="none" stroke="#7b0a96" stroke-width="1.2"/>
<text x="464.31" y="111.48" text-anchor="end" font-size="10.5">3</text>
<line x1="529.19" y1="99.90" x2="529.19" y2="115.61" stroke="#7b0a96" stroke-width="1.1"/>
<circle cx="529.19" cy="115.61" r="4.5" fill="none" stroke="#7b0a96" stroke-width="1.2"/>
<text x="524.19" y="121.11" text-anchor="end" font-size="10.5">4</text>
<line x1="541.06" y1="123.80" x2="541.06" y2="135.60" stroke="#7b0a96" stroke-width="1.1"/>
<circle cx="541.06" cy="135.60" r="4.5" fill="none" stroke="#7b0a96" stroke-width="1.2"/>
<text x="536.06" y="141.10" text-anchor="end" font-size="10.5">5</text>
<line x1="556.03" y1="83.50" x2="556.03" y2="105.42" stroke="#7b0a96" stroke-width="1.1"/>
<circle cx="556.03" cy="105.42" r="4.5" fill="none" stroke="#7b0a96" stroke-width="1.2"/>
<text x="551.03" y="110.92" text-anchor="end" font-size="10.5">6</text>
<line x1="567.71" y1="130.50" x2="567.71" y2="138.90" stroke="#7b0a96" stroke-width="1.1"/>
<circle cx="567.71" cy="138.90" r="4.5" fill="none" stroke="#7b0a96" stroke-width="1.2"/>
<text x="562.71" y="144.40" text-anchor="end" font-size="10.5">7</text>
<line x1="576.89" y1="106.60" x2="576.89" y2="122.30" stroke="#7b0a96" stroke-width="1.1"/>
<circle cx="576.89" cy="122.30" r="4.5" fill="none" stroke="#7b0a96" stroke-width="1.2"/>
<text x="571.89" y="127.80" text-anchor="end" font-size="10.5">8</text>
<linearGradient id="cb19" x1="0" y1="1" x2="0" y2="0"><stop offset="0" stop-color="#00004c"/><stop offset="0.25" stop-color="#0000ff"/><stop offset="0.5" stop-color="#ffffff"/><stop offset="0.75" stop-color="#ff0000"/><stop offset="1" stop-color="#7f0000"/></linearGradient>
<rect x="638" y="19.5" width="8.00" height="145.80" fill="url(#cb19)" stroke="#222" stroke-width="0.8"/>
<line x1="646" y1="19.50" x2="649.00" y2="19.50" stroke="#222" stroke-width="0.8"/>
<text x="650.20" y="23.40" font-size="11.5">1.0</text>
<line x1="646" y1="56.00" x2="649.00" y2="56.00" stroke="#222" stroke-width="0.8"/>
<text x="650.20" y="59.90" font-size="11.5">0.5</text>
<line x1="646" y1="92.40" x2="649.00" y2="92.40" stroke="#222" stroke-width="0.8"/>
<text x="650.20" y="96.30" font-size="11.5">0.0</text>
<line x1="646" y1="128.80" x2="649.00" y2="128.80" stroke="#222" stroke-width="0.8"/>
<text x="650.20" y="132.70" font-size="11.5">−0.5</text>
<line x1="646" y1="165.30" x2="649.00" y2="165.30" stroke="#222" stroke-width="0.8"/>
<text x="650.20" y="169.20" font-size="11.5">−1.0</text>
<text x="679.9" y="92.55" text-anchor="middle" dominant-baseline="central" font-size="10.6" textLength="86.5" lengthAdjust="spacingAndGlyphs" transform="rotate(-90 679.9 92.55)">log-spectral ratio Λ</text>
<text x="341.9" y="222.9" text-anchor="middle" font-size="13.6">(a)</text>
<text x="333.85" y="255.1" text-anchor="middle" font-size="12" textLength="215.6" lengthAdjust="spacingAndGlyphs">Median-distances, chr21:34.6 - 37.1 Mb</text>
<clipPath id="clbL"><rect x="36.40" y="271.60" width="278.20" height="146.70"/></clipPath>
<g clip-path="url(#clbL)">
<clipPath id="tbL"><polygon points="37.55,412.60 175.00,270.90 312.45,412.60"/></clipPath><filter id="fbL" x="-5%" y="-5%" width="110%" height="110%"><feGaussianBlur stdDeviation="4.0"/></filter><g clip-path="url(#tbL)"><g filter="url(#fbL)"><path fill="#ffffe3" d="M38.2 270.9h274.1v14.7h-274.1zM161.3 285.0h28.0v14.7h-28.0zM202.4 313.2h110.0v14.7h-110.0z"/><path fill="#ffffc6" d="M38.2 285.0h123.7v14.7h-123.7zM161.3 299.1h151.0v14.7h-151.0zM161.3 313.2h41.6v14.7h-41.6z"/><path fill="#ffffff" d="M188.7 285.0h123.7v14.7h-123.7z"/><path fill="#ffff8e" d="M38.2 299.1h110.0v14.7h-110.0zM134.0 313.2h14.3v14.7h-14.3zM161.3 327.3h14.3v14.7h-14.3zM175.0 341.4h55.3v14.7h-55.3z"/><path fill="#ffffaa" d="M147.6 299.1h14.3v14.7h-14.3zM147.6 313.2h14.3v14.7h-14.3zM175.0 327.3h137.4v14.7h-137.4z"/><path fill="#fff171" d="M38.2 313.2h96.3v14.7h-96.3zM147.6 327.3h14.3v14.7h-14.3zM147.6 341.4h28.0v14.7h-28.0zM229.7 341.4h82.7v14.7h-82.7zM202.4 355.5h28.0v14.7h-28.0z"/><path fill="#ffb839" d="M38.2 327.3h96.3v14.7h-96.3zM134.0 341.4h14.3v14.7h-14.3zM147.6 355.5h28.0v14.7h-28.0zM243.4 355.5h69.0v14.7h-69.0zM175.0 369.6h55.3v14.7h-55.3z"/><path fill="#ffd455" d="M134.0 327.3h14.3v14.7h-14.3zM175.0 355.5h28.0v14.7h-28.0zM229.7 355.5h14.3v14.7h-14.3z"/><path fill="#ff8000" d="M38.2 341.4h96.3v14.7h-96.3zM92.9 355.5h41.6v14.7h-41.6zM79.3 369.6h28.0v14.7h-28.0zM120.3 369.6h28.0v14.7h-28.0zM229.7 369.6h28.0v14.7h-28.0zM270.7 369.6h41.6v14.7h-41.6zM38.2 383.7h55.3v14.7h-55.3zM161.3 383.7h82.7v14.7h-82.7zM284.4 383.7h28.0v14.7h-28.0z"/><path fill="#ff9c1c" d="M38.2 355.5h55.3v14.7h-55.3zM134.0 355.5h14.3v14.7h-14.3zM38.2 369.6h41.6v14.7h-41.6zM147.6 369.6h28.0v14.7h-28.0zM257.1 369.6h14.3v14.7h-14.3z"/><path fill="#e36300" d="M106.6 369.6h14.3v14.7h-14.3zM92.9 383.7h69.0v14.7h-69.0zM243.4 383.7h41.6v14.7h-41.6zM38.2 397.8h14.3v14.7h-14.3zM65.6 397.8h14.3v14.7h-14.3zM106.6 397.8h14.3v14.7h-14.3zM134.0 397.8h14.3v14.7h-14.3zM175.0 397.8h14.3v14.7h-14.3zM216.0 397.8h14.3v14.7h-14.3zM257.1 397.8h14.3v14.7h-14.3z"/><path fill="#c64700" d="M51.9 397.8h14.3v14.7h-14.3zM79.3 397.8h28.0v14.7h-28.0zM120.3 397.8h14.3v14.7h-14.3zM147.6 397.8h28.0v14.7h-28.0zM188.7 397.8h28.0v14.7h-28.0zM229.7 397.8h28.0v14.7h-28.0zM270.7 397.8h41.6v14.7h-41.6z"/></g></g><linearGradient id="gbLL" x1="0" y1="328.00" x2="0" y2="412.60" gradientUnits="userSpaceOnUse"><stop offset="0.0000" stop-color="#ffa728"/><stop offset="0.2009" stop-color="#ff8b0b"/><stop offset="0.4374" stop-color="#f47400"/><stop offset="0.6738" stop-color="#e66600"/><stop offset="0.8274" stop-color="#d75800"/><stop offset="0.9220" stop-color="#c14100"/><stop offset="1.0000" stop-color="#a42500"/></linearGradient><filter id="fbbLL" x="-5%" y="-5%" width="110%" height="110%"><feGaussianBlur stdDeviation="1.6"/></filter><g clip-path="url(#tbL)"><polygon points="38.30,412.60 120.40,327.96 202.50,412.60" fill="url(#gbLL)" filter="url(#fbbLL)"/></g><linearGradient id="gbLR" x1="0" y1="353.70" x2="0" y2="412.60" gradientUnits="userSpaceOnUse"><stop offset="0.0000" stop-color="#ffe060"/><stop offset="0.1919" stop-color="#ffbe3e"/><stop offset="0.4465" stop-color="#ff9011"/><stop offset="0.7012" stop-color="#e36300"/><stop offset="0.8710" stop-color="#c64700"/><stop offset="1.0000" stop-color="#a42500"/></linearGradient><filter id="fbbLR" x="-5%" y="-5%" width="110%" height="110%"><feGaussianBlur stdDeviation="3.0"/></filter><g clip-path="url(#tbL)"><polygon points="198.20,412.60 258.10,350.85 318.00,412.60" fill="url(#gbLR)" filter="url(#fbbLR)"/></g>
</g>
<line x1="36.60" y1="271.60" x2="36.60" y2="418.30" stroke="#d0d0d0" stroke-width="1.1"/>
<line x1="91.25" y1="271.60" x2="91.25" y2="418.30" stroke="#d0d0d0" stroke-width="1.1"/>
<line x1="145.90" y1="271.60" x2="145.90" y2="418.30" stroke="#d0d0d0" stroke-width="1.1"/>
<line x1="200.55" y1="271.60" x2="200.55" y2="418.30" stroke="#d0d0d0" stroke-width="1.1"/>
<line x1="255.20" y1="271.60" x2="255.20" y2="418.30" stroke="#d0d0d0" stroke-width="1.1"/>
<line x1="309.85" y1="271.60" x2="309.85" y2="418.30" stroke="#d0d0d0" stroke-width="1.1"/>
<line x1="36.40" y1="412.60" x2="314.60" y2="412.60" stroke="#d0d0d0" stroke-width="1.1"/>
<line x1="36.40" y1="384.40" x2="314.60" y2="384.40" stroke="#d0d0d0" stroke-width="1.1"/>
<line x1="36.40" y1="356.20" x2="314.60" y2="356.20" stroke="#d0d0d0" stroke-width="1.1"/>
<line x1="36.40" y1="328.00" x2="314.60" y2="328.00" stroke="#d0d0d0" stroke-width="1.1"/>
<line x1="36.40" y1="299.80" x2="314.60" y2="299.80" stroke="#d0d0d0" stroke-width="1.1"/>
<line x1="36.40" y1="402.45" x2="314.60" y2="402.45" stroke="#3c3c3c" stroke-width="1.1" stroke-dasharray="3.7 1.6"/>
<polygon points="37.55,412.30 312.45,412.30 306.92,418.30 43.08,418.30" fill="#b84006"/><line x1="36.40" y1="412.60" x2="314.60" y2="412.60" stroke="#3a3a3a" stroke-width="1.1" stroke-dasharray="1.2 1.6"/>
<rect x="36.40" y="271.60" width="278.20" height="146.70" fill="none" stroke="#4a4a4a" stroke-width="1"/>
<line x1="33.20" y1="412.60" x2="36.40" y2="412.60" stroke="#333" stroke-width="0.9"/>
<text x="31.60" y="416.35" text-anchor="end" font-size="11">0 b</text>
<line x1="33.20" y1="384.40" x2="36.40" y2="384.40" stroke="#333" stroke-width="0.9"/>
<text x="31.60" y="388.15" text-anchor="end" font-size="11">500 kb</text>
<line x1="33.20" y1="356.20" x2="36.40" y2="356.20" stroke="#333" stroke-width="0.9"/>
<text x="31.60" y="359.95" text-anchor="end" font-size="11">1 Mb</text>
<line x1="33.20" y1="328.00" x2="36.40" y2="328.00" stroke="#333" stroke-width="0.9"/>
<text x="31.60" y="331.75" text-anchor="end" font-size="11">1.5 Mb</text>
<line x1="33.20" y1="299.80" x2="36.40" y2="299.80" stroke="#333" stroke-width="0.9"/>
<text x="31.60" y="303.55" text-anchor="end" font-size="11">2 Mb</text>
<line x1="36.60" y1="418.30" x2="36.60" y2="421.50" stroke="#333" stroke-width="0.9"/>
<text x="36.60" y="438.90" text-anchor="middle" dominant-baseline="central" font-size="10.8" transform="rotate(-45 36.60 438.90)">34.6 Mb</text>
<line x1="91.25" y1="418.30" x2="91.25" y2="421.50" stroke="#333" stroke-width="0.9"/>
<text x="91.25" y="438.90" text-anchor="middle" dominant-baseline="central" font-size="10.8" transform="rotate(-45 91.25 438.90)">35.1 Mb</text>
<line x1="145.90" y1="418.30" x2="145.90" y2="421.50" stroke="#333" stroke-width="0.9"/>
<text x="145.90" y="438.90" text-anchor="middle" dominant-baseline="central" font-size="10.8" transform="rotate(-45 145.90 438.90)">35.6 Mb</text>
<line x1="200.55" y1="418.30" x2="200.55" y2="421.50" stroke="#333" stroke-width="0.9"/>
<text x="200.55" y="438.90" text-anchor="middle" dominant-baseline="central" font-size="10.8" transform="rotate(-45 200.55 438.90)">36.1 Mb</text>
<line x1="255.20" y1="418.30" x2="255.20" y2="421.50" stroke="#333" stroke-width="0.9"/>
<text x="255.20" y="438.90" text-anchor="middle" dominant-baseline="central" font-size="10.8" transform="rotate(-45 255.20 438.90)">36.6 Mb</text>
<line x1="309.85" y1="418.30" x2="309.85" y2="421.50" stroke="#333" stroke-width="0.9"/>
<text x="309.85" y="438.90" text-anchor="middle" dominant-baseline="central" font-size="10.8" transform="rotate(-45 309.85 438.90)">37.1 Mb</text>
<text x="175.50" y="267.60" text-anchor="middle" font-size="11.5">WT</text>
<circle cx="59.66" cy="402.73" r="4.5" fill="none" stroke="#7b0a96" stroke-width="2"/>
<text x="54.66" y="408.23" text-anchor="end" font-size="10.5">1</text>
<circle cx="76.39" cy="399.21" r="4.5" fill="none" stroke="#7b0a96" stroke-width="1.6"/>
<text x="71.39" y="404.71" text-anchor="end" font-size="10.5">2</text>
<circle cx="95.62" cy="372.10" r="4.5" fill="none" stroke="#7b0a96" stroke-width="2"/>
<text x="90.62" y="377.60" text-anchor="end" font-size="10.5">3</text>
<circle cx="102.62" cy="385.58" r="4.5" fill="none" stroke="#7b0a96" stroke-width="1.8"/>
<text x="97.62" y="391.08" text-anchor="end" font-size="10.5">4</text>
<circle cx="138.36" cy="337.76" r="4.5" fill="none" stroke="#7b0a96" stroke-width="1.8"/>
<text x="133.36" y="343.26" text-anchor="end" font-size="10.5">5</text>
<circle cx="148.20" cy="378.48" r="4.5" fill="none" stroke="#7b0a96" stroke-width="2"/>
<text x="143.20" y="383.98" text-anchor="end" font-size="10.5">6</text>
<circle cx="157.94" cy="361.84" r="4.5" fill="none" stroke="#7b0a96" stroke-width="2"/>
<text x="152.94" y="367.34" text-anchor="end" font-size="10.5">7</text>
<circle cx="177.51" cy="406.06" r="4.5" fill="none" stroke="#7b0a96" stroke-width="0.9" stroke-opacity="0.8"/>
<text x="172.51" y="411.56" text-anchor="end" font-size="10.5">8</text>
<circle cx="181.05" cy="395.17" r="4.5" fill="none" stroke="#7b0a96" stroke-width="1" stroke-opacity="0.8"/>
<text x="176.05" y="400.67" text-anchor="end" font-size="10.5">9</text>
<circle cx="214.12" cy="398.73" r="4.5" fill="none" stroke="#7b0a96" stroke-width="1.2" stroke-opacity="0.8"/>
<text x="209.12" y="404.23" text-anchor="end" font-size="10.5">10</text>
<circle cx="217.66" cy="392.07" r="4.5" fill="none" stroke="#7b0a96" stroke-width="1.2" stroke-opacity="0.8"/>
<text x="212.66" y="397.57" text-anchor="end" font-size="10.5">11</text>
<circle cx="247.19" cy="395.79" r="4.5" fill="none" stroke="#7b0a96" stroke-width="1.2" stroke-opacity="0.8"/>
<text x="242.19" y="401.29" text-anchor="end" font-size="10.5">12</text>
<circle cx="263.78" cy="378.76" r="4.5" fill="none" stroke="#7b0a96" stroke-width="1.6"/>
<text x="258.78" y="384.26" text-anchor="end" font-size="10.5">13</text>
<circle cx="273.51" cy="388.40" r="4.5" fill="none" stroke="#7b0a96" stroke-width="1.6"/>
<text x="268.51" y="393.90" text-anchor="end" font-size="10.5">14</text>
<path d="M37.00 412.50 L38.90 415.40 L37.00 418.30 L35.10 415.40 Z" fill="#8ee88e" stroke="#3d9a3d" stroke-width="0.5"/>
<path d="M43.40 412.50 L45.30 415.40 L43.40 418.30 L41.50 415.40 Z" fill="#8ee88e" stroke="#3d9a3d" stroke-width="0.5"/>
<path d="M49.00 412.50 L50.90 415.40 L49.00 418.30 L47.10 415.40 Z" fill="#8ee88e" stroke="#3d9a3d" stroke-width="0.5"/>
<path d="M55.30 412.50 L57.20 415.40 L55.30 418.30 L53.40 415.40 Z" fill="#8ee88e" stroke="#3d9a3d" stroke-width="0.5"/>
<path d="M64.70 412.50 L66.60 415.40 L64.70 418.30 L62.80 415.40 Z" fill="#8ee88e" stroke="#3d9a3d" stroke-width="0.5"/>
<path d="M77.20 412.50 L79.10 415.40 L77.20 418.30 L75.30 415.40 Z" fill="#8ee88e" stroke="#3d9a3d" stroke-width="0.5"/>
<path d="M114.40 412.50 L116.30 415.40 L114.40 418.30 L112.50 415.40 Z" fill="#8ee88e" stroke="#3d9a3d" stroke-width="0.5"/>
<path d="M120.80 412.50 L122.70 415.40 L120.80 418.30 L118.90 415.40 Z" fill="#8ee88e" stroke="#3d9a3d" stroke-width="0.5"/>
<path d="M132.60 412.50 L134.50 415.40 L132.60 418.30 L130.70 415.40 Z" fill="#8ee88e" stroke="#3d9a3d" stroke-width="0.5"/>
<path d="M169.20 412.50 L171.10 415.40 L169.20 418.30 L167.30 415.40 Z" fill="#8ee88e" stroke="#3d9a3d" stroke-width="0.5"/>
<path d="M174.30 412.50 L176.20 415.40 L174.30 418.30 L172.40 415.40 Z" fill="#8ee88e" stroke="#3d9a3d" stroke-width="0.5"/>
<path d="M180.00 412.50 L181.90 415.40 L180.00 418.30 L178.10 415.40 Z" fill="#8ee88e" stroke="#3d9a3d" stroke-width="0.5"/>
<path d="M189.80 412.50 L191.70 415.40 L189.80 418.30 L187.90 415.40 Z" fill="#8ee88e" stroke="#3d9a3d" stroke-width="0.5"/>
<path d="M199.50 412.50 L201.40 415.40 L199.50 418.30 L197.60 415.40 Z" fill="#8ee88e" stroke="#3d9a3d" stroke-width="0.5"/>
<path d="M203.10 412.50 L205.00 415.40 L203.10 418.30 L201.20 415.40 Z" fill="#8ee88e" stroke="#3d9a3d" stroke-width="0.5"/>
<path d="M209.70 412.50 L211.60 415.40 L209.70 418.30 L207.80 415.40 Z" fill="#8ee88e" stroke="#3d9a3d" stroke-width="0.5"/>
<path d="M222.90 412.50 L224.80 415.40 L222.90 418.30 L221.00 415.40 Z" fill="#8ee88e" stroke="#3d9a3d" stroke-width="0.5"/>
<path d="M233.10 412.50 L235.00 415.40 L233.10 418.30 L231.20 415.40 Z" fill="#8ee88e" stroke="#3d9a3d" stroke-width="0.5"/>
<path d="M242.20 412.50 L244.10 415.40 L242.20 418.30 L240.30 415.40 Z" fill="#8ee88e" stroke="#3d9a3d" stroke-width="0.5"/>
<path d="M251.40 412.50 L253.30 415.40 L251.40 418.30 L249.50 415.40 Z" fill="#8ee88e" stroke="#3d9a3d" stroke-width="0.5"/>
<path d="M255.80 412.50 L257.70 415.40 L255.80 418.30 L253.90 415.40 Z" fill="#8ee88e" stroke="#3d9a3d" stroke-width="0.5"/>
<path d="M259.10 412.50 L261.00 415.40 L259.10 418.30 L257.20 415.40 Z" fill="#8ee88e" stroke="#3d9a3d" stroke-width="0.5"/>
<path d="M280.60 412.50 L282.50 415.40 L280.60 418.30 L278.70 415.40 Z" fill="#8ee88e" stroke="#3d9a3d" stroke-width="0.5"/>
<path d="M287.40 412.50 L289.30 415.40 L287.40 418.30 L285.50 415.40 Z" fill="#8ee88e" stroke="#3d9a3d" stroke-width="0.5"/>
<path d="M289.80 412.50 L291.70 415.40 L289.80 418.30 L287.90 415.40 Z" fill="#8ee88e" stroke="#3d9a3d" stroke-width="0.5"/>
<path d="M293.70 412.50 L295.60 415.40 L293.70 418.30 L291.80 415.40 Z" fill="#8ee88e" stroke="#3d9a3d" stroke-width="0.5"/>
<path d="M297.40 412.50 L299.30 415.40 L297.40 418.30 L295.50 415.40 Z" fill="#8ee88e" stroke="#3d9a3d" stroke-width="0.5"/>
<path d="M305.10 412.50 L307.00 415.40 L305.10 418.30 L303.20 415.40 Z" fill="#8ee88e" stroke="#3d9a3d" stroke-width="0.5"/>
<clipPath id="clbR"><rect x="377.20" y="271.50" width="254.30" height="147.30"/></clipPath>
<g clip-path="url(#clbR)">
<polygon points="378.26,413.10 504.90,271.60 631.54,413.10" fill="#fffffc"/><clipPath id="tbR"><polygon points="378.26,413.10 504.90,271.60 631.54,413.10"/></clipPath><linearGradient id="gbRL" x1="0" y1="309.20" x2="0" y2="413.10" gradientUnits="userSpaceOnUse"><stop offset="0.0000" stop-color="#fffff4"/><stop offset="0.2002" stop-color="#ffffd7"/><stop offset="0.3927" stop-color="#ffffc3"/><stop offset="0.5371" stop-color="#ffffb0"/><stop offset="0.6333" stop-color="#ffff88"/><stop offset="0.7007" stop-color="#ffe363"/><stop offset="0.7777" stop-color="#ffc141"/><stop offset="0.8450" stop-color="#ff991a"/><stop offset="0.9028" stop-color="#f97a00"/><stop offset="0.9509" stop-color="#da5b00"/><stop offset="1.0000" stop-color="#b23300"/></linearGradient><filter id="fbbRL" x="-5%" y="-5%" width="110%" height="110%"><feGaussianBlur stdDeviation="1.5"/></filter><g clip-path="url(#tbR)"><polygon points="378.30,413.10 472.15,308.24 566.00,413.10" fill="url(#gbRL)" filter="url(#fbbRL)"/></g><linearGradient id="gbRR" x1="0" y1="337.00" x2="0" y2="413.10" gradientUnits="userSpaceOnUse"><stop offset="0.0000" stop-color="#fffff4"/><stop offset="0.1708" stop-color="#ffffd4"/><stop offset="0.3679" stop-color="#ffffb2"/><stop offset="0.4993" stop-color="#ffff88"/><stop offset="0.5913" stop-color="#ffe363"/><stop offset="0.6965" stop-color="#ffc141"/><stop offset="0.7884" stop-color="#ff991a"/><stop offset="0.8673" stop-color="#f97a00"/><stop offset="0.9330" stop-color="#da5b00"/><stop offset="1.0000" stop-color="#b23300"/></linearGradient><filter id="fbbRR" x="-5%" y="-5%" width="110%" height="110%"><feGaussianBlur stdDeviation="1.5"/></filter><g clip-path="url(#tbR)"><polygon points="494.90,413.10 563.95,335.95 633.00,413.10" fill="url(#gbRR)" filter="url(#fbbRR)"/></g>
</g>
<line x1="377.30" y1="271.50" x2="377.30" y2="418.80" stroke="#d0d0d0" stroke-width="1.1"/>
<line x1="427.50" y1="271.50" x2="427.50" y2="418.80" stroke="#d0d0d0" stroke-width="1.1"/>
<line x1="477.70" y1="271.50" x2="477.70" y2="418.80" stroke="#d0d0d0" stroke-width="1.1"/>
<line x1="527.90" y1="271.50" x2="527.90" y2="418.80" stroke="#d0d0d0" stroke-width="1.1"/>
<line x1="578.10" y1="271.50" x2="578.10" y2="418.80" stroke="#d0d0d0" stroke-width="1.1"/>
<line x1="628.30" y1="271.50" x2="628.30" y2="418.80" stroke="#d0d0d0" stroke-width="1.1"/>
<line x1="377.20" y1="413.10" x2="631.50" y2="413.10" stroke="#d0d0d0" stroke-width="1.1"/>
<line x1="377.20" y1="384.80" x2="631.50" y2="384.80" stroke="#d0d0d0" stroke-width="1.1"/>
<line x1="377.20" y1="356.50" x2="631.50" y2="356.50" stroke="#d0d0d0" stroke-width="1.1"/>
<line x1="377.20" y1="328.20" x2="631.50" y2="328.20" stroke="#d0d0d0" stroke-width="1.1"/>
<line x1="377.20" y1="299.90" x2="631.50" y2="299.90" stroke="#d0d0d0" stroke-width="1.1"/>
<line x1="377.20" y1="402.91" x2="631.50" y2="402.91" stroke="#3c3c3c" stroke-width="1.1" stroke-dasharray="3.7 1.6"/>
<polygon points="378.26,412.80 631.54,412.80 626.44,418.80 383.36,418.80" fill="#b84006"/><line x1="377.20" y1="413.10" x2="631.50" y2="413.10" stroke="#3a3a3a" stroke-width="1.1" stroke-dasharray="1.2 1.6"/>
<rect x="377.20" y="271.50" width="254.30" height="147.30" fill="none" stroke="#4a4a4a" stroke-width="1"/>
<line x1="374.00" y1="413.10" x2="377.20" y2="413.10" stroke="#333" stroke-width="0.9"/>
<text x="372.40" y="416.85" text-anchor="end" font-size="11">0 b</text>
<line x1="374.00" y1="384.80" x2="377.20" y2="384.80" stroke="#333" stroke-width="0.9"/>
<text x="372.40" y="388.55" text-anchor="end" font-size="11">500 kb</text>
<line x1="374.00" y1="356.50" x2="377.20" y2="356.50" stroke="#333" stroke-width="0.9"/>
<text x="372.40" y="360.25" text-anchor="end" font-size="11">1 Mb</text>
<line x1="374.00" y1="328.20" x2="377.20" y2="328.20" stroke="#333" stroke-width="0.9"/>
<text x="372.40" y="331.95" text-anchor="end" font-size="11">1.5 Mb</text>
<line x1="374.00" y1="299.90" x2="377.20" y2="299.90" stroke="#333" stroke-width="0.9"/>
<text x="372.40" y="303.65" text-anchor="end" font-size="11">2 Mb</text>
<line x1="377.30" y1="418.80" x2="377.30" y2="422.00" stroke="#333" stroke-width="0.9"/>
<text x="377.30" y="439.40" text-anchor="middle" dominant-baseline="central" font-size="10.8" transform="rotate(-45 377.30 439.40)">34.6 Mb</text>
<line x1="427.50" y1="418.80" x2="427.50" y2="422.00" stroke="#333" stroke-width="0.9"/>
<text x="427.50" y="439.40" text-anchor="middle" dominant-baseline="central" font-size="10.8" transform="rotate(-45 427.50 439.40)">35.1 Mb</text>
<line x1="477.70" y1="418.80" x2="477.70" y2="422.00" stroke="#333" stroke-width="0.9"/>
<text x="477.70" y="439.40" text-anchor="middle" dominant-baseline="central" font-size="10.8" transform="rotate(-45 477.70 439.40)">35.6 Mb</text>
<line x1="527.90" y1="418.80" x2="527.90" y2="422.00" stroke="#333" stroke-width="0.9"/>
<text x="527.90" y="439.40" text-anchor="middle" dominant-baseline="central" font-size="10.8" transform="rotate(-45 527.90 439.40)">36.1 Mb</text>
<line x1="578.10" y1="418.80" x2="578.10" y2="422.00" stroke="#333" stroke-width="0.9"/>
<text x="578.10" y="439.40" text-anchor="middle" dominant-baseline="central" font-size="10.8" transform="rotate(-45 578.10 439.40)">36.6 Mb</text>
<line x1="628.30" y1="418.80" x2="628.30" y2="422.00" stroke="#333" stroke-width="0.9"/>
<text x="628.30" y="439.40" text-anchor="middle" dominant-baseline="central" font-size="10.8" transform="rotate(-45 628.30 439.40)">37.1 Mb</text>
<text x="504.35" y="267.50" text-anchor="middle" font-size="11.5">Auxin</text>
<circle cx="416.36" cy="392.78" r="4.5" fill="none" stroke="#7b0a96" stroke-width="1" stroke-opacity="0.8"/>
<text x="411.36" y="398.28" text-anchor="end" font-size="10.5">1</text>
<circle cx="422.48" cy="379.14" r="4.5" fill="none" stroke="#7b0a96" stroke-width="1" stroke-opacity="0.8"/>
<text x="417.48" y="384.64" text-anchor="end" font-size="10.5">2</text>
<circle cx="473.28" cy="359.10" r="4.5" fill="none" stroke="#7b0a96" stroke-width="2"/>
<text x="468.28" y="364.60" text-anchor="end" font-size="10.5">3</text>
<circle cx="533.52" cy="368.84" r="4.5" fill="none" stroke="#7b0a96" stroke-width="1" stroke-opacity="0.8"/>
<text x="528.52" y="374.34" text-anchor="end" font-size="10.5">4</text>
<circle cx="545.47" cy="389.05" r="4.5" fill="none" stroke="#7b0a96" stroke-width="1" stroke-opacity="0.8"/>
<text x="540.47" y="394.55" text-anchor="end" font-size="10.5">5</text>
<circle cx="560.53" cy="358.54" r="4.5" fill="none" stroke="#7b0a96" stroke-width="1" stroke-opacity="0.8"/>
<text x="555.53" y="364.04" text-anchor="end" font-size="10.5">6</text>
<circle cx="572.28" cy="392.38" r="4.5" fill="none" stroke="#7b0a96" stroke-width="1" stroke-opacity="0.8"/>
<text x="567.28" y="397.88" text-anchor="end" font-size="10.5">7</text>
<circle cx="581.51" cy="375.60" r="4.5" fill="none" stroke="#7b0a96" stroke-width="1.2" stroke-opacity="0.8"/>
<text x="576.51" y="381.10" text-anchor="end" font-size="10.5">8</text>
<path d="M377.80 413.00 L379.70 415.90 L377.80 418.80 L375.90 415.90 Z" fill="#8ee88e" stroke="#3d9a3d" stroke-width="0.5"/>
<path d="M388.80 413.00 L390.70 415.90 L388.80 418.80 L386.90 415.90 Z" fill="#8ee88e" stroke="#3d9a3d" stroke-width="0.5"/>
<path d="M419.40 413.00 L421.30 415.90 L419.40 418.80 L417.50 415.90 Z" fill="#8ee88e" stroke="#3d9a3d" stroke-width="0.5"/>
<path d="M454.50 413.00 L456.40 415.90 L454.50 418.80 L452.60 415.90 Z" fill="#8ee88e" stroke="#3d9a3d" stroke-width="0.5"/>
<path d="M498.60 413.00 L500.50 415.90 L498.60 418.80 L496.70 415.90 Z" fill="#8ee88e" stroke="#3d9a3d" stroke-width="0.5"/>
<path d="M517.60 413.00 L519.50 415.90 L517.60 418.80 L515.70 415.90 Z" fill="#8ee88e" stroke="#3d9a3d" stroke-width="0.5"/>
<linearGradient id="cb271" x1="0" y1="1" x2="0" y2="0"><stop offset="0" stop-color="#000000"/><stop offset="0.25" stop-color="#800000"/><stop offset="0.5" stop-color="#ff8000"/><stop offset="0.75" stop-color="#ffff80"/><stop offset="1" stop-color="#ffffff"/></linearGradient>
<rect x="643.2" y="271.5" width="7.80" height="146.80" fill="url(#cb271)" stroke="#222" stroke-width="0.8"/>
<line x1="651" y1="418.30" x2="654.00" y2="418.30" stroke="#222" stroke-width="0.8"/>
<text x="655.20" y="422.20" font-size="11.5">0</text>
<line x1="651" y1="385.70" x2="654.00" y2="385.70" stroke="#222" stroke-width="0.8"/>
<text x="655.20" y="389.60" font-size="11.5">200</text>
<line x1="651" y1="353.10" x2="654.00" y2="353.10" stroke="#222" stroke-width="0.8"/>
<text x="655.20" y="357.00" font-size="11.5">400</text>
<line x1="651" y1="320.50" x2="654.00" y2="320.50" stroke="#222" stroke-width="0.8"/>
<text x="655.20" y="324.40" font-size="11.5">600</text>
<line x1="651" y1="287.90" x2="654.00" y2="287.90" stroke="#222" stroke-width="0.8"/>
<text x="655.20" y="291.80" font-size="11.5">800</text>
<text x="679.5" y="342.10" text-anchor="middle" dominant-baseline="central" font-size="10.6" textLength="96.2" lengthAdjust="spacingAndGlyphs" transform="rotate(-90 679.5 342.10)">median distance (<tspan font-style="italic">nm</tspan>)</text>
<rect x="159.4" y="277.5" width="149.4" height="19.3" rx="2" fill="#fff" fill-opacity="0.8" stroke="#d0d0d0" stroke-width="0.8"/>
<path d="M175.6 282.8 L178 287.4 L175.6 292 L173.2 287.4 Z" fill="#8ee88e" stroke="#3d9a3d" stroke-width="0.5"/>
<text x="196.5" y="291.4" font-size="11" textLength="108" lengthAdjust="spacingAndGlyphs">Chip-seq RAD21 peaks</text>
<text x="341.9" y="476.6" text-anchor="middle" font-size="13.6">(b)</text>
<text x="337.25" y="509.2" text-anchor="middle" font-size="12" textLength="149.4" lengthAdjust="spacingAndGlyphs">Hi-C, chr21:34.6 - 37.1 Mb</text>
<clipPath id="clcL"><rect x="36.60" y="525.50" width="280.60" height="148.50"/></clipPath>
<g clip-path="url(#clcL)">
<clipPath id="tcL"><polygon points="35.48,668.00 174.60,525.60 313.72,668.00"/></clipPath><filter id="fcL" x="-5%" y="-5%" width="110%" height="110%"><feGaussianBlur stdDeviation="4.0"/></filter><g clip-path="url(#tcL)"><g filter="url(#fcL)"><path fill="#fff69e" d="M35.4 525.6h279.0v14.8h-279.0zM160.7 539.9h153.7v14.8h-153.7zM160.7 554.1h153.7v14.8h-153.7zM160.7 568.4h153.7v14.8h-153.7zM160.7 582.6h153.7v14.8h-153.7zM146.8 596.9h167.7v14.8h-167.7zM146.8 611.1h70.2v14.8h-70.2zM230.3 611.1h14.5v14.8h-14.5zM258.1 611.1h56.3v14.8h-56.3zM160.7 625.4h14.5v14.8h-14.5z"/><path fill="#ffe384" d="M35.4 539.9h125.9v14.8h-125.9zM35.4 554.1h125.9v14.8h-125.9zM35.4 568.4h125.9v14.8h-125.9zM35.4 582.6h125.9v14.8h-125.9zM118.9 596.9h28.4v14.8h-28.4zM132.8 611.1h14.5v14.8h-14.5zM216.4 611.1h14.5v14.8h-14.5zM244.2 611.1h14.5v14.8h-14.5zM132.8 625.4h28.4v14.8h-28.4zM174.6 625.4h14.5v14.8h-14.5zM244.2 625.4h14.5v14.8h-14.5zM272.1 625.4h42.4v14.8h-42.4z"/><path fill="#ffcc65" d="M35.4 596.9h84.1v14.8h-84.1zM35.4 611.1h98.1v14.8h-98.1zM35.4 625.4h98.1v14.8h-98.1zM188.5 625.4h56.3v14.8h-56.3zM258.1 625.4h14.5v14.8h-14.5zM118.9 639.6h42.4v14.8h-42.4zM244.2 639.6h28.4v14.8h-28.4z"/><path fill="#ff931c" d="M35.4 639.6h84.1v14.8h-84.1zM160.7 639.6h84.1v14.8h-84.1zM272.1 639.6h42.4v14.8h-42.4z"/><path fill="#db620d" d="M35.4 653.9h279.0v14.8h-279.0z"/></g></g><linearGradient id="gcLL" x1="0" y1="581.50" x2="0" y2="668.00" gradientUnits="userSpaceOnUse"><stop offset="0.0000" stop-color="#ffb142"/><stop offset="0.2139" stop-color="#ffa937"/><stop offset="0.4451" stop-color="#ff9d28"/><stop offset="0.6763" stop-color="#ff8b12"/><stop offset="0.8150" stop-color="#ee750d"/><stop offset="0.9075" stop-color="#cc530d"/><stop offset="1.0000" stop-color="#9c230d"/></linearGradient><filter id="fbcLL" x="-5%" y="-5%" width="110%" height="110%"><feGaussianBlur stdDeviation="0.8"/></filter><g clip-path="url(#tcL)"><polygon points="35.00,668.00 119.50,581.51 204.00,668.00" fill="url(#gcLL)" filter="url(#fbcLL)"/></g><linearGradient id="gcLR" x1="0" y1="612.00" x2="0" y2="668.00" gradientUnits="userSpaceOnUse"><stop offset="0.0000" stop-color="#ffc157"/><stop offset="0.3214" stop-color="#ffb142"/><stop offset="0.5893" stop-color="#ff9720"/><stop offset="0.7679" stop-color="#f37a0d"/><stop offset="0.8929" stop-color="#cc530d"/><stop offset="1.0000" stop-color="#9c230d"/></linearGradient><filter id="fbcLR" x="-5%" y="-5%" width="110%" height="110%"><feGaussianBlur stdDeviation="2.5"/></filter><g clip-path="url(#tcL)"><polygon points="204.30,668.00 260.15,610.84 316.00,668.00" fill="url(#gcLR)" filter="url(#fbcLR)"/></g>
</g>
<line x1="36.20" y1="525.50" x2="36.20" y2="674.00" stroke="#d0d0d0" stroke-width="1.1"/>
<line x1="91.70" y1="525.50" x2="91.70" y2="674.00" stroke="#d0d0d0" stroke-width="1.1"/>
<line x1="147.20" y1="525.50" x2="147.20" y2="674.00" stroke="#d0d0d0" stroke-width="1.1"/>
<line x1="202.70" y1="525.50" x2="202.70" y2="674.00" stroke="#d0d0d0" stroke-width="1.1"/>
<line x1="258.20" y1="525.50" x2="258.20" y2="674.00" stroke="#d0d0d0" stroke-width="1.1"/>
<line x1="313.70" y1="525.50" x2="313.70" y2="674.00" stroke="#d0d0d0" stroke-width="1.1"/>
<line x1="36.60" y1="668.00" x2="317.20" y2="668.00" stroke="#d0d0d0" stroke-width="1.1"/>
<line x1="36.60" y1="639.50" x2="317.20" y2="639.50" stroke="#d0d0d0" stroke-width="1.1"/>
<line x1="36.60" y1="611.00" x2="317.20" y2="611.00" stroke="#d0d0d0" stroke-width="1.1"/>
<line x1="36.60" y1="582.50" x2="317.20" y2="582.50" stroke="#d0d0d0" stroke-width="1.1"/>
<line x1="36.60" y1="554.00" x2="317.20" y2="554.00" stroke="#d0d0d0" stroke-width="1.1"/>
<line x1="36.60" y1="657.74" x2="317.20" y2="657.74" stroke="#3c3c3c" stroke-width="1.1" stroke-dasharray="3.7 1.6"/>
<polygon points="35.48,667.70 313.72,667.70 307.86,674.00 41.34,674.00" fill="#a52d05"/><line x1="36.60" y1="668.00" x2="317.20" y2="668.00" stroke="#505050" stroke-width="1.2"/>
<rect x="36.60" y="525.50" width="280.60" height="148.50" fill="none" stroke="#4a4a4a" stroke-width="1"/>
<line x1="33.40" y1="668.00" x2="36.60" y2="668.00" stroke="#333" stroke-width="0.9"/>
<text x="31.80" y="671.75" text-anchor="end" font-size="11">0 b</text>
<line x1="33.40" y1="639.50" x2="36.60" y2="639.50" stroke="#333" stroke-width="0.9"/>
<text x="31.80" y="643.25" text-anchor="end" font-size="11">500 kb</text>
<line x1="33.40" y1="611.00" x2="36.60" y2="611.00" stroke="#333" stroke-width="0.9"/>
<text x="31.80" y="614.75" text-anchor="end" font-size="11">1 Mb</text>
<line x1="33.40" y1="582.50" x2="36.60" y2="582.50" stroke="#333" stroke-width="0.9"/>
<text x="31.80" y="586.25" text-anchor="end" font-size="11">1.5 Mb</text>
<line x1="33.40" y1="554.00" x2="36.60" y2="554.00" stroke="#333" stroke-width="0.9"/>
<text x="31.80" y="557.75" text-anchor="end" font-size="11">2 Mb</text>
<line x1="36.20" y1="674.00" x2="36.20" y2="677.20" stroke="#333" stroke-width="0.9"/>
<text x="36.20" y="694.60" text-anchor="middle" dominant-baseline="central" font-size="10.8" transform="rotate(-45 36.20 694.60)">34.6 Mb</text>
<line x1="91.70" y1="674.00" x2="91.70" y2="677.20" stroke="#333" stroke-width="0.9"/>
<text x="91.70" y="694.60" text-anchor="middle" dominant-baseline="central" font-size="10.8" transform="rotate(-45 91.70 694.60)">35.1 Mb</text>
<line x1="147.20" y1="674.00" x2="147.20" y2="677.20" stroke="#333" stroke-width="0.9"/>
<text x="147.20" y="694.60" text-anchor="middle" dominant-baseline="central" font-size="10.8" transform="rotate(-45 147.20 694.60)">35.6 Mb</text>
<line x1="202.70" y1="674.00" x2="202.70" y2="677.20" stroke="#333" stroke-width="0.9"/>
<text x="202.70" y="694.60" text-anchor="middle" dominant-baseline="central" font-size="10.8" transform="rotate(-45 202.70 694.60)">36.1 Mb</text>
<line x1="258.20" y1="674.00" x2="258.20" y2="677.20" stroke="#333" stroke-width="0.9"/>
<text x="258.20" y="694.60" text-anchor="middle" dominant-baseline="central" font-size="10.8" transform="rotate(-45 258.20 694.60)">36.6 Mb</text>
<line x1="313.70" y1="674.00" x2="313.70" y2="677.20" stroke="#333" stroke-width="0.9"/>
<text x="313.70" y="694.60" text-anchor="middle" dominant-baseline="central" font-size="10.8" transform="rotate(-45 313.70 694.60)">37.1 Mb</text>
<text x="176.90" y="521.50" text-anchor="middle" font-size="11.5">WT</text>
<circle cx="59.62" cy="658.02" r="4.5" fill="none" stroke="#7b0a96" stroke-width="2"/>
<text x="54.62" y="663.52" text-anchor="end" font-size="10.5">1</text>
<circle cx="76.60" cy="654.46" r="4.5" fill="none" stroke="#7b0a96" stroke-width="1.6"/>
<text x="71.60" y="659.96" text-anchor="end" font-size="10.5">2</text>
<circle cx="96.14" cy="627.07" r="4.5" fill="none" stroke="#7b0a96" stroke-width="2"/>
<text x="91.14" y="632.57" text-anchor="end" font-size="10.5">3</text>
<circle cx="103.24" cy="640.70" r="4.5" fill="none" stroke="#7b0a96" stroke-width="1.8"/>
<text x="98.24" y="646.20" text-anchor="end" font-size="10.5">4</text>
<circle cx="139.54" cy="592.36" r="4.5" fill="none" stroke="#7b0a96" stroke-width="1.8"/>
<text x="134.54" y="597.86" text-anchor="end" font-size="10.5">5</text>
<circle cx="149.42" cy="633.51" r="4.5" fill="none" stroke="#7b0a96" stroke-width="2"/>
<text x="144.42" y="639.01" text-anchor="end" font-size="10.5">6</text>
<circle cx="159.19" cy="616.70" r="4.5" fill="none" stroke="#7b0a96" stroke-width="2"/>
<text x="154.19" y="622.20" text-anchor="end" font-size="10.5">7</text>
<circle cx="178.83" cy="661.39" r="4.5" fill="none" stroke="#7b0a96" stroke-width="0.9" stroke-opacity="0.8"/>
<text x="173.83" y="666.89" text-anchor="end" font-size="10.5">8</text>
<circle cx="182.39" cy="650.39" r="4.5" fill="none" stroke="#7b0a96" stroke-width="1" stroke-opacity="0.8"/>
<text x="177.39" y="655.89" text-anchor="end" font-size="10.5">9</text>
<circle cx="215.58" cy="653.98" r="4.5" fill="none" stroke="#7b0a96" stroke-width="1.2" stroke-opacity="0.8"/>
<text x="210.58" y="659.48" text-anchor="end" font-size="10.5">10</text>
<circle cx="219.13" cy="647.25" r="4.5" fill="none" stroke="#7b0a96" stroke-width="1.2" stroke-opacity="0.8"/>
<text x="214.13" y="652.75" text-anchor="end" font-size="10.5">11</text>
<circle cx="248.76" cy="651.01" r="4.5" fill="none" stroke="#7b0a96" stroke-width="1.2" stroke-opacity="0.8"/>
<text x="243.76" y="656.51" text-anchor="end" font-size="10.5">12</text>
<circle cx="265.41" cy="633.80" r="4.5" fill="none" stroke="#7b0a96" stroke-width="1.6"/>
<text x="260.41" y="639.30" text-anchor="end" font-size="10.5">13</text>
<circle cx="275.18" cy="643.55" r="4.5" fill="none" stroke="#7b0a96" stroke-width="1.6"/>
<text x="270.18" y="649.05" text-anchor="end" font-size="10.5">14</text>
<path d="M36.61 667.90 L38.51 670.80 L36.61 673.70 L34.71 670.80 Z" fill="#8ee88e" stroke="#3d9a3d" stroke-width="0.5"/>
<path d="M43.11 667.90 L45.01 670.80 L43.11 673.70 L41.21 670.80 Z" fill="#8ee88e" stroke="#3d9a3d" stroke-width="0.5"/>
<path d="M48.79 667.90 L50.69 670.80 L48.79 673.70 L46.89 670.80 Z" fill="#8ee88e" stroke="#3d9a3d" stroke-width="0.5"/>
<path d="M55.19 667.90 L57.09 670.80 L55.19 673.70 L53.29 670.80 Z" fill="#8ee88e" stroke="#3d9a3d" stroke-width="0.5"/>
<path d="M64.74 667.90 L66.64 670.80 L64.74 673.70 L62.84 670.80 Z" fill="#8ee88e" stroke="#3d9a3d" stroke-width="0.5"/>
<path d="M77.43 667.90 L79.33 670.80 L77.43 673.70 L75.53 670.80 Z" fill="#8ee88e" stroke="#3d9a3d" stroke-width="0.5"/>
<path d="M115.21 667.90 L117.11 670.80 L115.21 673.70 L113.31 670.80 Z" fill="#8ee88e" stroke="#3d9a3d" stroke-width="0.5"/>
<path d="M121.71 667.90 L123.61 670.80 L121.71 673.70 L119.81 670.80 Z" fill="#8ee88e" stroke="#3d9a3d" stroke-width="0.5"/>
<path d="M133.69 667.90 L135.59 670.80 L133.69 673.70 L131.79 670.80 Z" fill="#8ee88e" stroke="#3d9a3d" stroke-width="0.5"/>
<path d="M170.86 667.90 L172.76 670.80 L170.86 673.70 L168.96 670.80 Z" fill="#8ee88e" stroke="#3d9a3d" stroke-width="0.5"/>
<path d="M176.04 667.90 L177.94 670.80 L176.04 673.70 L174.14 670.80 Z" fill="#8ee88e" stroke="#3d9a3d" stroke-width="0.5"/>
<path d="M181.83 667.90 L183.73 670.80 L181.83 673.70 L179.93 670.80 Z" fill="#8ee88e" stroke="#3d9a3d" stroke-width="0.5"/>
<path d="M191.78 667.90 L193.68 670.80 L191.78 673.70 L189.88 670.80 Z" fill="#8ee88e" stroke="#3d9a3d" stroke-width="0.5"/>
<path d="M201.63 667.90 L203.53 670.80 L201.63 673.70 L199.73 670.80 Z" fill="#8ee88e" stroke="#3d9a3d" stroke-width="0.5"/>
<path d="M205.29 667.90 L207.19 670.80 L205.29 673.70 L203.39 670.80 Z" fill="#8ee88e" stroke="#3d9a3d" stroke-width="0.5"/>
<path d="M211.99 667.90 L213.89 670.80 L211.99 673.70 L210.09 670.80 Z" fill="#8ee88e" stroke="#3d9a3d" stroke-width="0.5"/>
<path d="M225.40 667.90 L227.30 670.80 L225.40 673.70 L223.50 670.80 Z" fill="#8ee88e" stroke="#3d9a3d" stroke-width="0.5"/>
<path d="M235.76 667.90 L237.66 670.80 L235.76 673.70 L233.86 670.80 Z" fill="#8ee88e" stroke="#3d9a3d" stroke-width="0.5"/>
<path d="M245.00 667.90 L246.90 670.80 L245.00 673.70 L243.10 670.80 Z" fill="#8ee88e" stroke="#3d9a3d" stroke-width="0.5"/>
<path d="M254.34 667.90 L256.24 670.80 L254.34 673.70 L252.44 670.80 Z" fill="#8ee88e" stroke="#3d9a3d" stroke-width="0.5"/>
<path d="M258.81 667.90 L260.71 670.80 L258.81 673.70 L256.91 670.80 Z" fill="#8ee88e" stroke="#3d9a3d" stroke-width="0.5"/>
<path d="M262.16 667.90 L264.06 670.80 L262.16 673.70 L260.26 670.80 Z" fill="#8ee88e" stroke="#3d9a3d" stroke-width="0.5"/>
<path d="M284.00 667.90 L285.90 670.80 L284.00 673.70 L282.10 670.80 Z" fill="#8ee88e" stroke="#3d9a3d" stroke-width="0.5"/>
<path d="M290.90 667.90 L292.80 670.80 L290.90 673.70 L289.00 670.80 Z" fill="#8ee88e" stroke="#3d9a3d" stroke-width="0.5"/>
<path d="M293.34 667.90 L295.24 670.80 L293.34 673.70 L291.44 670.80 Z" fill="#8ee88e" stroke="#3d9a3d" stroke-width="0.5"/>
<path d="M297.30 667.90 L299.20 670.80 L297.30 673.70 L295.40 670.80 Z" fill="#8ee88e" stroke="#3d9a3d" stroke-width="0.5"/>
<path d="M301.06 667.90 L302.96 670.80 L301.06 673.70 L299.16 670.80 Z" fill="#8ee88e" stroke="#3d9a3d" stroke-width="0.5"/>
<path d="M308.88 667.90 L310.78 670.80 L308.88 673.70 L306.98 670.80 Z" fill="#8ee88e" stroke="#3d9a3d" stroke-width="0.5"/>
<clipPath id="clcR"><rect x="381.10" y="525.50" width="255.40" height="148.00"/></clipPath>
<g clip-path="url(#clcR)">
<clipPath id="tcR"><polygon points="379.91,668.00 507.00,524.40 634.09,668.00"/></clipPath><linearGradient id="gcRall" x1="0" y1="524.40" x2="0" y2="668.00" gradientUnits="userSpaceOnUse"><stop offset="0.0000" stop-color="#fff8a0"/><stop offset="0.2479" stop-color="#fff39b"/><stop offset="0.4568" stop-color="#ffe98d"/><stop offset="0.6100" stop-color="#ffdc7b"/><stop offset="0.7354" stop-color="#ffd36e"/><stop offset="0.8398" stop-color="#ffc45b"/><stop offset="0.8955" stop-color="#ffac3b"/><stop offset="0.9373" stop-color="#fd830d"/><stop offset="0.9721" stop-color="#d1580d"/><stop offset="1.0000" stop-color="#a52c0d"/></linearGradient><polygon points="379.91,668.00 507.00,524.40 634.09,668.00" fill="url(#gcRall)"/>
</g>
<line x1="381.00" y1="525.50" x2="381.00" y2="673.50" stroke="#d0d0d0" stroke-width="1.1"/>
<line x1="431.45" y1="525.50" x2="431.45" y2="673.50" stroke="#d0d0d0" stroke-width="1.1"/>
<line x1="481.90" y1="525.50" x2="481.90" y2="673.50" stroke="#d0d0d0" stroke-width="1.1"/>
<line x1="532.35" y1="525.50" x2="532.35" y2="673.50" stroke="#d0d0d0" stroke-width="1.1"/>
<line x1="582.80" y1="525.50" x2="582.80" y2="673.50" stroke="#d0d0d0" stroke-width="1.1"/>
<line x1="633.25" y1="525.50" x2="633.25" y2="673.50" stroke="#d0d0d0" stroke-width="1.1"/>
<line x1="381.10" y1="668.00" x2="636.50" y2="668.00" stroke="#d0d0d0" stroke-width="1.1"/>
<line x1="381.10" y1="639.50" x2="636.50" y2="639.50" stroke="#d0d0d0" stroke-width="1.1"/>
<line x1="381.10" y1="611.00" x2="636.50" y2="611.00" stroke="#d0d0d0" stroke-width="1.1"/>
<line x1="381.10" y1="582.50" x2="636.50" y2="582.50" stroke="#d0d0d0" stroke-width="1.1"/>
<line x1="381.10" y1="554.00" x2="636.50" y2="554.00" stroke="#d0d0d0" stroke-width="1.1"/>
<line x1="381.10" y1="657.74" x2="636.50" y2="657.74" stroke="#3c3c3c" stroke-width="1.1" stroke-dasharray="3.7 1.6"/>
<polygon points="379.91,667.70 634.09,667.70 629.22,673.50 384.78,673.50" fill="#a52d05"/><line x1="381.10" y1="668.00" x2="636.50" y2="668.00" stroke="#505050" stroke-width="1.2"/>
<rect x="381.10" y="525.50" width="255.40" height="148.00" fill="none" stroke="#4a4a4a" stroke-width="1"/>
<line x1="377.90" y1="668.00" x2="381.10" y2="668.00" stroke="#333" stroke-width="0.9"/>
<text x="376.30" y="671.75" text-anchor="end" font-size="11">0 b</text>
<line x1="377.90" y1="639.50" x2="381.10" y2="639.50" stroke="#333" stroke-width="0.9"/>
<text x="376.30" y="643.25" text-anchor="end" font-size="11">500 kb</text>
<line x1="377.90" y1="611.00" x2="381.10" y2="611.00" stroke="#333" stroke-width="0.9"/>
<text x="376.30" y="614.75" text-anchor="end" font-size="11">1 Mb</text>
<line x1="377.90" y1="582.50" x2="381.10" y2="582.50" stroke="#333" stroke-width="0.9"/>
<text x="376.30" y="586.25" text-anchor="end" font-size="11">1.5 Mb</text>
<line x1="377.90" y1="554.00" x2="381.10" y2="554.00" stroke="#333" stroke-width="0.9"/>
<text x="376.30" y="557.75" text-anchor="end" font-size="11">2 Mb</text>
<line x1="381.00" y1="673.50" x2="381.00" y2="676.70" stroke="#333" stroke-width="0.9"/>
<text x="381.00" y="694.10" text-anchor="middle" dominant-baseline="central" font-size="10.8" transform="rotate(-45 381.00 694.10)">34.6 Mb</text>
<line x1="431.45" y1="673.50" x2="431.45" y2="676.70" stroke="#333" stroke-width="0.9"/>
<text x="431.45" y="694.10" text-anchor="middle" dominant-baseline="central" font-size="10.8" transform="rotate(-45 431.45 694.10)">35.1 Mb</text>
<line x1="481.90" y1="673.50" x2="481.90" y2="676.70" stroke="#333" stroke-width="0.9"/>
<text x="481.90" y="694.10" text-anchor="middle" dominant-baseline="central" font-size="10.8" transform="rotate(-45 481.90 694.10)">35.6 Mb</text>
<line x1="532.35" y1="673.50" x2="532.35" y2="676.70" stroke="#333" stroke-width="0.9"/>
<text x="532.35" y="694.10" text-anchor="middle" dominant-baseline="central" font-size="10.8" transform="rotate(-45 532.35 694.10)">36.1 Mb</text>
<line x1="582.80" y1="673.50" x2="582.80" y2="676.70" stroke="#333" stroke-width="0.9"/>
<text x="582.80" y="694.10" text-anchor="middle" dominant-baseline="central" font-size="10.8" transform="rotate(-45 582.80 694.10)">36.6 Mb</text>
<line x1="633.25" y1="673.50" x2="633.25" y2="676.70" stroke="#333" stroke-width="0.9"/>
<text x="633.25" y="694.10" text-anchor="middle" dominant-baseline="central" font-size="10.8" transform="rotate(-45 633.25 694.10)">37.1 Mb</text>
<text x="508.80" y="521.50" text-anchor="middle" font-size="11.5">Auxin</text>
<circle cx="420.25" cy="647.54" r="4.5" fill="none" stroke="#7b0a96" stroke-width="1" stroke-opacity="0.8"/>
<text x="415.25" y="653.04" text-anchor="end" font-size="10.5">1</text>
<circle cx="426.40" cy="633.80" r="4.5" fill="none" stroke="#7b0a96" stroke-width="1" stroke-opacity="0.8"/>
<text x="421.40" y="639.30" text-anchor="end" font-size="10.5">2</text>
<circle cx="477.46" cy="613.62" r="4.5" fill="none" stroke="#7b0a96" stroke-width="2"/>
<text x="472.46" y="619.12" text-anchor="end" font-size="10.5">3</text>
<circle cx="538.00" cy="623.43" r="4.5" fill="none" stroke="#7b0a96" stroke-width="1" stroke-opacity="0.8"/>
<text x="533.00" y="628.93" text-anchor="end" font-size="10.5">4</text>
<circle cx="550.01" cy="643.77" r="4.5" fill="none" stroke="#7b0a96" stroke-width="1" stroke-opacity="0.8"/>
<text x="545.01" y="649.27" text-anchor="end" font-size="10.5">5</text>
<circle cx="565.14" cy="613.05" r="4.5" fill="none" stroke="#7b0a96" stroke-width="1" stroke-opacity="0.8"/>
<text x="560.14" y="618.55" text-anchor="end" font-size="10.5">6</text>
<circle cx="576.95" cy="647.14" r="4.5" fill="none" stroke="#7b0a96" stroke-width="1" stroke-opacity="0.8"/>
<text x="571.95" y="652.64" text-anchor="end" font-size="10.5">7</text>
<circle cx="586.23" cy="630.24" r="4.5" fill="none" stroke="#7b0a96" stroke-width="1.2" stroke-opacity="0.8"/>
<text x="581.23" y="635.74" text-anchor="end" font-size="10.5">8</text>
<path d="M381.50 667.90 L383.40 670.80 L381.50 673.70 L379.60 670.80 Z" fill="#8ee88e" stroke="#3d9a3d" stroke-width="0.5"/>
<path d="M392.56 667.90 L394.46 670.80 L392.56 673.70 L390.66 670.80 Z" fill="#8ee88e" stroke="#3d9a3d" stroke-width="0.5"/>
<path d="M423.31 667.90 L425.21 670.80 L423.31 673.70 L421.41 670.80 Z" fill="#8ee88e" stroke="#3d9a3d" stroke-width="0.5"/>
<path d="M458.58 667.90 L460.48 670.80 L458.58 673.70 L456.68 670.80 Z" fill="#8ee88e" stroke="#3d9a3d" stroke-width="0.5"/>
<path d="M502.90 667.90 L504.80 670.80 L502.90 673.70 L501.00 670.80 Z" fill="#8ee88e" stroke="#3d9a3d" stroke-width="0.5"/>
<path d="M522.00 667.90 L523.90 670.80 L522.00 673.70 L520.10 670.80 Z" fill="#8ee88e" stroke="#3d9a3d" stroke-width="0.5"/>
<linearGradient id="cb525" x1="0" y1="1" x2="0" y2="0"><stop offset="0" stop-color="#ffffff"/><stop offset="0.25" stop-color="#ffff80"/><stop offset="0.5" stop-color="#ff8000"/><stop offset="0.75" stop-color="#800000"/><stop offset="1" stop-color="#000000"/></linearGradient>
<rect x="649.3" y="525.4" width="8.10" height="147.90" fill="url(#cb525)" stroke="#222" stroke-width="0.8"/>
<line x1="657.4" y1="673.30" x2="660.40" y2="673.30" stroke="#222" stroke-width="0.8"/>
<text x="661.60" y="677.20" font-size="11.5">0</text>
<line x1="657.4" y1="643.70" x2="660.40" y2="643.70" stroke="#222" stroke-width="0.8"/>
<text x="661.60" y="647.60" font-size="11.5">2</text>
<line x1="657.4" y1="614.10" x2="660.40" y2="614.10" stroke="#222" stroke-width="0.8"/>
<text x="661.60" y="618.00" font-size="11.5">4</text>
<line x1="657.4" y1="584.50" x2="660.40" y2="584.50" stroke="#222" stroke-width="0.8"/>
<text x="661.60" y="588.40" font-size="11.5">6</text>
<line x1="657.4" y1="554.90" x2="660.40" y2="554.90" stroke="#222" stroke-width="0.8"/>
<text x="661.60" y="558.80" font-size="11.5">8</text>
<line x1="657.4" y1="525.30" x2="660.40" y2="525.30" stroke="#222" stroke-width="0.8"/>
<text x="661.60" y="529.20" font-size="11.5">10</text>
<text x="679.2" y="599.40" text-anchor="middle" dominant-baseline="central" font-size="10.6" textLength="73.5" lengthAdjust="spacingAndGlyphs" transform="rotate(-90 679.2 599.40)"><tspan font-style="italic">log</tspan><tspan font-style="italic" font-size="7.5" dy="2">2</tspan><tspan dy="-2"> raw counts</tspan></text>
<text x="341.9" y="732.2" text-anchor="middle" font-size="13.6">(c)</text>
</svg></body></html>
